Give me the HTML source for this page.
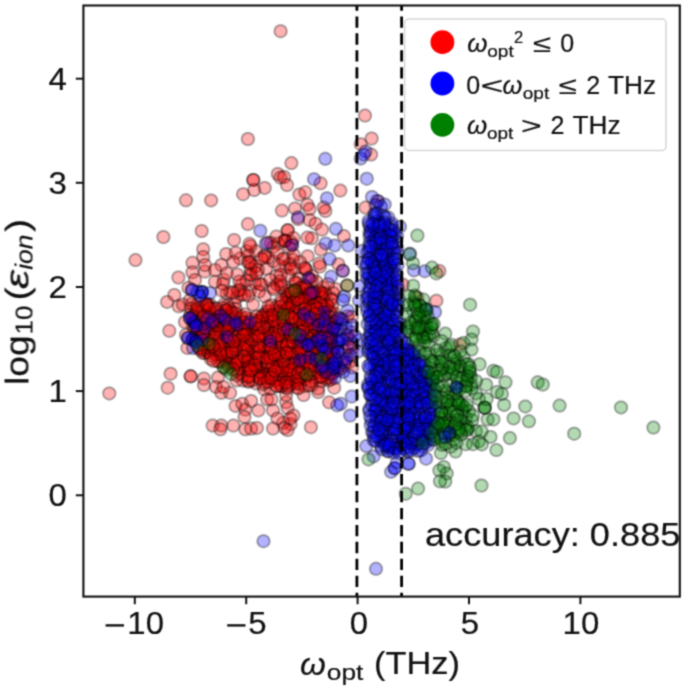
<!DOCTYPE html>
<html><head><meta charset="utf-8"><style>
html,body{margin:0;padding:0;background:#fff;width:685px;height:688px;overflow:hidden}
svg{position:absolute;left:0;top:0;}
text{stroke:#111;stroke-width:0.2px}
</style></head><body><svg width="685" height="688" viewBox="0 0 685 688"><defs><filter id="bl" x="0" y="0" width="685" height="688" filterUnits="userSpaceOnUse" color-interpolation-filters="sRGB"><feConvolveMatrix order="3" kernelMatrix="0.0400 0.1200 0.0400 0.1200 0.3600 0.1200 0.0400 0.1200 0.0400" edgeMode="duplicate" preserveAlpha="true"/></filter></defs><rect width="685" height="688" fill="#fff"/><g filter="url(#bl)"><rect width="685" height="688" fill="#fff"/><g fill="#ff0000" fill-opacity="0.3" stroke="#000" stroke-opacity="0.3" stroke-width="2.0"><circle cx="280.6" cy="31.2" r="6.25"/><circle cx="109.3" cy="393.4" r="6.25"/><circle cx="186.0" cy="200.3" r="6.25"/><circle cx="211.1" cy="200.4" r="6.25"/><circle cx="163.4" cy="237.0" r="6.25"/><circle cx="135.5" cy="260.1" r="6.25"/><circle cx="178.4" cy="277.5" r="6.25"/><circle cx="201.7" cy="231.0" r="6.25"/><circle cx="203.2" cy="249.2" r="6.25"/><circle cx="203.2" cy="256.9" r="6.25"/><circle cx="226.2" cy="254.0" r="6.25"/><circle cx="192.5" cy="262.8" r="6.25"/><circle cx="221.4" cy="265.0" r="6.25"/><circle cx="234.1" cy="240.0" r="6.25"/><circle cx="174.3" cy="294.9" r="6.25"/><circle cx="167.1" cy="301.9" r="6.25"/><circle cx="178.7" cy="306.3" r="6.25"/><circle cx="169.3" cy="330.8" r="6.25"/><circle cx="188.5" cy="287.7" r="6.25"/><circle cx="170.6" cy="373.7" r="6.25"/><circle cx="190.7" cy="376.3" r="6.25"/><circle cx="190.7" cy="376.3" r="6.25"/><circle cx="167.7" cy="387.7" r="6.25"/><circle cx="203.9" cy="378.5" r="6.25"/><circle cx="203.9" cy="385.1" r="6.25"/><circle cx="218.1" cy="377.4" r="6.25"/><circle cx="215.9" cy="386.9" r="6.25"/><circle cx="221.4" cy="392.8" r="6.25"/><circle cx="230.1" cy="392.8" r="6.25"/><circle cx="235.6" cy="405.9" r="6.25"/><circle cx="212.6" cy="425.6" r="6.25"/><circle cx="221.4" cy="425.6" r="6.25"/><circle cx="233.4" cy="425.6" r="6.25"/><circle cx="187.4" cy="347.9" r="6.25"/><circle cx="247.9" cy="139.0" r="6.25"/><circle cx="253.3" cy="179.9" r="6.25"/><circle cx="253.3" cy="179.9" r="6.25"/><circle cx="264.7" cy="187.9" r="6.25"/><circle cx="254.2" cy="190.1" r="6.25"/><circle cx="243.1" cy="194.2" r="6.25"/><circle cx="277.8" cy="174.0" r="6.25"/><circle cx="280.5" cy="177.5" r="6.25"/><circle cx="291.4" cy="163.1" r="6.25"/><circle cx="284.1" cy="177.0" r="6.25"/><circle cx="287.0" cy="185.0" r="6.25"/><circle cx="320.6" cy="183.3" r="6.25"/><circle cx="340.3" cy="190.6" r="6.25"/><circle cx="299.4" cy="194.5" r="6.25"/><circle cx="305.3" cy="192.3" r="6.25"/><circle cx="281.9" cy="210.6" r="6.25"/><circle cx="295.0" cy="208.4" r="6.25"/><circle cx="307.4" cy="204.7" r="6.25"/><circle cx="309.6" cy="209.1" r="6.25"/><circle cx="325.4" cy="211.0" r="6.25"/><circle cx="298.0" cy="219.0" r="6.25"/><circle cx="309.6" cy="220.1" r="6.25"/><circle cx="315.5" cy="223.7" r="6.25"/><circle cx="322.0" cy="229.6" r="6.25"/><circle cx="343.9" cy="236.1" r="6.25"/><circle cx="311.8" cy="238.3" r="6.25"/><circle cx="307.4" cy="237.6" r="6.25"/><circle cx="287.7" cy="230.3" r="6.25"/><circle cx="287.7" cy="230.3" r="6.25"/><circle cx="284.8" cy="240.5" r="6.25"/><circle cx="284.8" cy="240.5" r="6.25"/><circle cx="292.1" cy="244.9" r="6.25"/><circle cx="278.2" cy="243.4" r="6.25"/><circle cx="365.0" cy="115.6" r="6.25"/><circle cx="371.6" cy="138.5" r="6.25"/><circle cx="360.7" cy="144.2" r="6.25"/><circle cx="371.1" cy="154.6" r="6.25"/><circle cx="323.7" cy="207.6" r="6.25"/><circle cx="365.5" cy="207.6" r="6.25"/><circle cx="247.9" cy="224.1" r="6.25"/><circle cx="192.4" cy="272.3" r="6.25"/><circle cx="204.8" cy="271.5" r="6.25"/><circle cx="223.8" cy="279.6" r="6.25"/><circle cx="226.7" cy="293.4" r="6.25"/><circle cx="215.0" cy="281.8" r="6.25"/><circle cx="248.6" cy="255.5" r="6.25"/><circle cx="251.5" cy="264.2" r="6.25"/><circle cx="250.0" cy="274.5" r="6.25"/><circle cx="241.3" cy="284.7" r="6.25"/><circle cx="264.7" cy="255.5" r="6.25"/><circle cx="266.1" cy="268.6" r="6.25"/><circle cx="273.4" cy="261.3" r="6.25"/><circle cx="276.4" cy="275.9" r="6.25"/><circle cx="261.8" cy="284.7" r="6.25"/><circle cx="273.4" cy="287.6" r="6.25"/><circle cx="250.0" cy="290.5" r="6.25"/><circle cx="241.3" cy="294.9" r="6.25"/><circle cx="264.7" cy="296.4" r="6.25"/><circle cx="239.9" cy="258.4" r="6.25"/><circle cx="255.9" cy="251.1" r="6.25"/><circle cx="273.4" cy="246.7" r="6.25"/><circle cx="276.4" cy="236.5" r="6.25"/><circle cx="248.0" cy="262.0" r="6.25"/><circle cx="258.0" cy="270.0" r="6.25"/><circle cx="270.0" cy="280.0" r="6.25"/><circle cx="255.0" cy="283.0" r="6.25"/><circle cx="320.9" cy="249.6" r="6.25"/><circle cx="307.7" cy="256.2" r="6.25"/><circle cx="338.4" cy="264.2" r="6.25"/><circle cx="342.8" cy="270.8" r="6.25"/><circle cx="335.5" cy="289.1" r="6.25"/><circle cx="347.2" cy="285.4" r="6.25"/><circle cx="284.4" cy="258.4" r="6.25"/><circle cx="293.1" cy="259.9" r="6.25"/><circle cx="285.8" cy="267.2" r="6.25"/><circle cx="294.6" cy="268.6" r="6.25"/><circle cx="288.8" cy="275.9" r="6.25"/><circle cx="299.0" cy="278.8" r="6.25"/><circle cx="306.3" cy="270.1" r="6.25"/><circle cx="312.1" cy="275.9" r="6.25"/><circle cx="316.5" cy="281.8" r="6.25"/><circle cx="309.2" cy="278.8" r="6.25"/><circle cx="301.9" cy="287.6" r="6.25"/><circle cx="294.6" cy="290.5" r="6.25"/><circle cx="320.9" cy="293.4" r="6.25"/><circle cx="285.8" cy="293.4" r="6.25"/><circle cx="281.5" cy="284.7" r="6.25"/><circle cx="290.0" cy="264.0" r="6.25"/><circle cx="300.0" cy="262.0" r="6.25"/><circle cx="296.0" cy="283.0" r="6.25"/><circle cx="377.0" cy="201.0" r="6.25"/><circle cx="402.8" cy="284.6" r="6.25"/><circle cx="417.4" cy="297.7" r="6.25"/><circle cx="436.4" cy="300.7" r="6.25"/><circle cx="351.7" cy="316.7" r="6.25"/><circle cx="344.4" cy="364.9" r="6.25"/><circle cx="439.4" cy="271.1" r="6.25"/><circle cx="459.9" cy="344.5" r="6.25"/><circle cx="207.7" cy="306.1" r="6.25"/><circle cx="223.8" cy="304.6" r="6.25"/><circle cx="261.8" cy="316.3" r="6.25"/><circle cx="234.0" cy="348.4" r="6.25"/><circle cx="248.6" cy="354.2" r="6.25"/><circle cx="255.9" cy="365.9" r="6.25"/><circle cx="264.7" cy="352.8" r="6.25"/><circle cx="267.6" cy="374.7" r="6.25"/><circle cx="213.6" cy="333.8" r="6.25"/><circle cx="213.6" cy="351.3" r="6.25"/><circle cx="197.5" cy="307.5" r="6.25"/><circle cx="190.2" cy="314.8" r="6.25"/><circle cx="244.2" cy="335.3" r="6.25"/><circle cx="253.0" cy="333.8" r="6.25"/><circle cx="267.6" cy="329.4" r="6.25"/><circle cx="276.4" cy="322.1" r="6.25"/><circle cx="274.9" cy="358.6" r="6.25"/><circle cx="242.8" cy="380.5" r="6.25"/><circle cx="255.9" cy="383.4" r="6.25"/><circle cx="236.9" cy="297.3" r="6.25"/><circle cx="248.6" cy="295.8" r="6.25"/><circle cx="223.8" cy="355.7" r="6.25"/><circle cx="204.8" cy="352.8" r="6.25"/><circle cx="234.7" cy="303.9" r="6.25"/><circle cx="253.0" cy="304.6" r="6.25"/><circle cx="228.2" cy="323.6" r="6.25"/><circle cx="182.9" cy="304.6" r="6.25"/><circle cx="185.0" cy="322.0" r="6.25"/><circle cx="186.0" cy="335.0" r="6.25"/><circle cx="200.0" cy="330.0" r="6.25"/><circle cx="215.0" cy="325.0" r="6.25"/><circle cx="190.0" cy="300.0" r="6.25"/><circle cx="286.3" cy="297.3" r="6.25"/><circle cx="293.6" cy="307.5" r="6.25"/><circle cx="312.6" cy="303.1" r="6.25"/><circle cx="265.8" cy="314.8" r="6.25"/><circle cx="302.3" cy="325.0" r="6.25"/><circle cx="324.2" cy="323.6" r="6.25"/><circle cx="312.6" cy="326.5" r="6.25"/><circle cx="321.3" cy="336.7" r="6.25"/><circle cx="330.1" cy="333.8" r="6.25"/><circle cx="279.0" cy="354.2" r="6.25"/><circle cx="290.7" cy="348.4" r="6.25"/><circle cx="295.0" cy="363.0" r="6.25"/><circle cx="277.5" cy="365.9" r="6.25"/><circle cx="287.7" cy="371.8" r="6.25"/><circle cx="274.6" cy="380.5" r="6.25"/><circle cx="299.4" cy="383.4" r="6.25"/><circle cx="328.6" cy="380.5" r="6.25"/><circle cx="335.9" cy="368.8" r="6.25"/><circle cx="321.3" cy="377.6" r="6.25"/><circle cx="333.0" cy="292.9" r="6.25"/><circle cx="347.6" cy="316.3" r="6.25"/><circle cx="352.0" cy="367.4" r="6.25"/><circle cx="312.6" cy="294.4" r="6.25"/><circle cx="303.8" cy="314.1" r="6.25"/><circle cx="287.7" cy="329.4" r="6.25"/><circle cx="271.0" cy="341.1" r="6.25"/><circle cx="300.9" cy="341.1" r="6.25"/><circle cx="223.4" cy="387.0" r="6.25"/><circle cx="242.3" cy="403.8" r="6.25"/><circle cx="245.3" cy="409.6" r="6.25"/><circle cx="244.5" cy="416.9" r="6.25"/><circle cx="258.4" cy="410.4" r="6.25"/><circle cx="273.0" cy="410.4" r="6.25"/><circle cx="251.1" cy="400.9" r="6.25"/><circle cx="267.2" cy="399.4" r="6.25"/><circle cx="286.1" cy="402.3" r="6.25"/><circle cx="287.6" cy="408.2" r="6.25"/><circle cx="293.4" cy="415.5" r="6.25"/><circle cx="290.5" cy="424.2" r="6.25"/><circle cx="283.2" cy="422.8" r="6.25"/><circle cx="277.4" cy="418.4" r="6.25"/><circle cx="220.4" cy="429.3" r="6.25"/><circle cx="245.3" cy="429.3" r="6.25"/><circle cx="251.1" cy="428.6" r="6.25"/><circle cx="256.9" cy="427.9" r="6.25"/><circle cx="273.0" cy="428.6" r="6.25"/><circle cx="284.7" cy="427.9" r="6.25"/><circle cx="287.6" cy="430.1" r="6.25"/><circle cx="243.8" cy="376.1" r="6.25"/><circle cx="290.5" cy="368.8" r="6.25"/><circle cx="236.5" cy="380.4" r="6.25"/><circle cx="264.2" cy="389.2" r="6.25"/><circle cx="281.8" cy="386.3" r="6.25"/><circle cx="294.9" cy="383.4" r="6.25"/><circle cx="248.2" cy="367.3" r="6.25"/><circle cx="310.9" cy="427.2" r="6.25"/><circle cx="286.1" cy="395.0" r="6.25"/><circle cx="290.4" cy="418.4" r="6.25"/><circle cx="271.5" cy="399.4" r="6.25"/><circle cx="303.6" cy="395.0" r="6.25"/><circle cx="318.2" cy="392.1" r="6.25"/><circle cx="334.2" cy="387.7" r="6.25"/><circle cx="329.1" cy="402.3" r="6.25"/><circle cx="318.2" cy="388.5" r="6.25"/><circle cx="278.8" cy="379.0" r="6.25"/><circle cx="286.1" cy="387.7" r="6.25"/><circle cx="205.0" cy="265.0" r="6.25"/><circle cx="215.0" cy="270.0" r="6.25"/><circle cx="195.0" cy="280.0" r="6.25"/><circle cx="230.0" cy="292.0" r="6.25"/><circle cx="240.0" cy="290.0" r="6.25"/><circle cx="324.4" cy="341.4" r="6.25"/><circle cx="348.7" cy="362.4" r="6.25"/><circle cx="351.7" cy="355.3" r="6.25"/><circle cx="340.2" cy="329.9" r="6.25"/><circle cx="349.5" cy="339.0" r="6.25"/><circle cx="322.9" cy="354.6" r="6.25"/><circle cx="327.7" cy="342.3" r="6.25"/><circle cx="338.2" cy="342.8" r="6.25"/><circle cx="340.3" cy="318.6" r="6.25"/><circle cx="331.3" cy="353.1" r="6.25"/><circle cx="336.0" cy="361.7" r="6.25"/><circle cx="346.6" cy="337.8" r="6.25"/><circle cx="351.4" cy="332.3" r="6.25"/><circle cx="337.7" cy="370.9" r="6.25"/><circle cx="353.2" cy="347.4" r="6.25"/><circle cx="330.1" cy="340.6" r="6.25"/><circle cx="317.0" cy="341.2" r="6.25"/><circle cx="333.9" cy="348.1" r="6.25"/><circle cx="324.1" cy="359.4" r="6.25"/><circle cx="331.6" cy="338.5" r="6.25"/><circle cx="327.6" cy="322.0" r="6.25"/><circle cx="326.1" cy="371.7" r="6.25"/><circle cx="328.1" cy="357.0" r="6.25"/><circle cx="344.6" cy="351.1" r="6.25"/><circle cx="342.9" cy="359.0" r="6.25"/><circle cx="326.9" cy="367.2" r="6.25"/><circle cx="329.0" cy="327.2" r="6.25"/><circle cx="348.9" cy="346.4" r="6.25"/><circle cx="322.1" cy="333.2" r="6.25"/><circle cx="340.4" cy="368.8" r="6.25"/><circle cx="334.8" cy="326.5" r="6.25"/><circle cx="291.4" cy="268.9" r="6.25"/><circle cx="277.1" cy="284.5" r="6.25"/><circle cx="223.1" cy="283.8" r="6.25"/><circle cx="226.9" cy="273.2" r="6.25"/><circle cx="268.0" cy="257.5" r="6.25"/><circle cx="291.4" cy="242.2" r="6.25"/><circle cx="281.4" cy="287.4" r="6.25"/><circle cx="238.1" cy="290.5" r="6.25"/><circle cx="270.9" cy="243.1" r="6.25"/><circle cx="279.2" cy="265.5" r="6.25"/><circle cx="246.6" cy="280.7" r="6.25"/><circle cx="285.1" cy="241.1" r="6.25"/><circle cx="246.8" cy="251.2" r="6.25"/><circle cx="280.7" cy="274.6" r="6.25"/><circle cx="251.2" cy="275.1" r="6.25"/><circle cx="293.6" cy="238.1" r="6.25"/><circle cx="260.0" cy="284.0" r="6.25"/><circle cx="250.7" cy="269.0" r="6.25"/><circle cx="320.0" cy="266.6" r="6.25"/><circle cx="282.6" cy="259.2" r="6.25"/><circle cx="280.3" cy="281.2" r="6.25"/><circle cx="305.5" cy="268.7" r="6.25"/><circle cx="255.6" cy="266.0" r="6.25"/><circle cx="322.9" cy="287.5" r="6.25"/><circle cx="273.7" cy="289.3" r="6.25"/><circle cx="311.2" cy="280.3" r="6.25"/><circle cx="289.8" cy="247.4" r="6.25"/><circle cx="221.8" cy="290.7" r="6.25"/><circle cx="249.3" cy="262.2" r="6.25"/><circle cx="232.5" cy="292.8" r="6.25"/><circle cx="250.5" cy="246.1" r="6.25"/><circle cx="264.6" cy="256.6" r="6.25"/><circle cx="261.7" cy="258.8" r="6.25"/><circle cx="267.7" cy="242.5" r="6.25"/><circle cx="249.5" cy="243.8" r="6.25"/><circle cx="237.2" cy="274.4" r="6.25"/><circle cx="239.4" cy="281.4" r="6.25"/><circle cx="303.5" cy="284.9" r="6.25"/><circle cx="235.8" cy="252.8" r="6.25"/><circle cx="259.0" cy="291.5" r="6.25"/><circle cx="319.4" cy="263.4" r="6.25"/><circle cx="295.1" cy="282.2" r="6.25"/><circle cx="233.3" cy="261.9" r="6.25"/><circle cx="256.6" cy="273.3" r="6.25"/><circle cx="293.8" cy="255.0" r="6.25"/><circle cx="244.5" cy="294.6" r="6.25"/><circle cx="304.5" cy="268.1" r="6.25"/><circle cx="328.0" cy="283.9" r="6.25"/><circle cx="277.2" cy="252.5" r="6.25"/><circle cx="322.6" cy="321.7" r="6.25"/><circle cx="303.3" cy="376.4" r="6.25"/><circle cx="288.4" cy="297.4" r="6.25"/><circle cx="331.1" cy="312.9" r="6.25"/><circle cx="294.0" cy="329.5" r="6.25"/><circle cx="310.2" cy="353.1" r="6.25"/><circle cx="196.9" cy="339.8" r="6.25"/><circle cx="316.9" cy="361.1" r="6.25"/><circle cx="292.3" cy="335.4" r="6.25"/><circle cx="310.4" cy="353.6" r="6.25"/><circle cx="291.7" cy="323.7" r="6.25"/><circle cx="224.1" cy="366.8" r="6.25"/><circle cx="212.0" cy="323.2" r="6.25"/><circle cx="192.1" cy="339.7" r="6.25"/><circle cx="238.9" cy="372.9" r="6.25"/><circle cx="269.5" cy="367.1" r="6.25"/><circle cx="275.8" cy="310.5" r="6.25"/><circle cx="237.5" cy="343.7" r="6.25"/><circle cx="263.2" cy="339.9" r="6.25"/><circle cx="332.0" cy="349.4" r="6.25"/><circle cx="326.5" cy="378.4" r="6.25"/><circle cx="237.7" cy="318.0" r="6.25"/><circle cx="263.2" cy="321.2" r="6.25"/><circle cx="234.5" cy="353.1" r="6.25"/><circle cx="211.2" cy="345.3" r="6.25"/><circle cx="305.5" cy="315.9" r="6.25"/><circle cx="331.0" cy="338.3" r="6.25"/><circle cx="307.3" cy="321.1" r="6.25"/><circle cx="306.4" cy="344.5" r="6.25"/><circle cx="288.6" cy="307.6" r="6.25"/><circle cx="301.9" cy="328.1" r="6.25"/><circle cx="231.5" cy="345.8" r="6.25"/><circle cx="225.2" cy="332.9" r="6.25"/><circle cx="288.5" cy="378.6" r="6.25"/><circle cx="299.5" cy="292.2" r="6.25"/><circle cx="210.0" cy="304.5" r="6.25"/><circle cx="258.8" cy="342.9" r="6.25"/><circle cx="315.6" cy="337.0" r="6.25"/><circle cx="315.7" cy="349.0" r="6.25"/><circle cx="302.9" cy="322.7" r="6.25"/><circle cx="299.2" cy="328.6" r="6.25"/><circle cx="331.1" cy="298.4" r="6.25"/><circle cx="193.2" cy="320.2" r="6.25"/><circle cx="227.3" cy="360.7" r="6.25"/><circle cx="311.8" cy="385.0" r="6.25"/><circle cx="290.3" cy="357.4" r="6.25"/><circle cx="316.9" cy="292.7" r="6.25"/><circle cx="311.5" cy="316.6" r="6.25"/><circle cx="293.3" cy="365.5" r="6.25"/><circle cx="314.7" cy="329.2" r="6.25"/><circle cx="265.0" cy="351.9" r="6.25"/><circle cx="308.9" cy="368.4" r="6.25"/><circle cx="293.3" cy="379.5" r="6.25"/><circle cx="288.0" cy="388.3" r="6.25"/><circle cx="240.3" cy="322.8" r="6.25"/><circle cx="220.5" cy="335.8" r="6.25"/><circle cx="231.2" cy="363.6" r="6.25"/><circle cx="283.7" cy="312.4" r="6.25"/><circle cx="240.4" cy="366.0" r="6.25"/><circle cx="261.5" cy="372.7" r="6.25"/><circle cx="217.1" cy="312.0" r="6.25"/><circle cx="301.8" cy="338.5" r="6.25"/><circle cx="283.1" cy="340.7" r="6.25"/><circle cx="210.8" cy="324.5" r="6.25"/><circle cx="247.6" cy="361.4" r="6.25"/><circle cx="194.4" cy="322.8" r="6.25"/><circle cx="246.1" cy="362.2" r="6.25"/><circle cx="272.7" cy="333.3" r="6.25"/><circle cx="233.0" cy="331.5" r="6.25"/><circle cx="251.8" cy="335.4" r="6.25"/><circle cx="283.3" cy="381.3" r="6.25"/><circle cx="207.9" cy="341.5" r="6.25"/><circle cx="220.1" cy="330.0" r="6.25"/><circle cx="289.5" cy="298.9" r="6.25"/><circle cx="210.6" cy="313.1" r="6.25"/><circle cx="268.5" cy="327.3" r="6.25"/><circle cx="315.8" cy="328.9" r="6.25"/><circle cx="264.1" cy="347.7" r="6.25"/><circle cx="322.4" cy="312.4" r="6.25"/><circle cx="273.9" cy="332.0" r="6.25"/><circle cx="307.0" cy="337.3" r="6.25"/><circle cx="301.5" cy="370.4" r="6.25"/><circle cx="267.9" cy="373.5" r="6.25"/><circle cx="334.1" cy="312.9" r="6.25"/><circle cx="310.6" cy="374.7" r="6.25"/><circle cx="284.1" cy="374.1" r="6.25"/><circle cx="227.4" cy="305.8" r="6.25"/><circle cx="250.2" cy="360.2" r="6.25"/><circle cx="195.8" cy="336.2" r="6.25"/><circle cx="331.4" cy="374.1" r="6.25"/><circle cx="329.5" cy="312.1" r="6.25"/><circle cx="291.7" cy="325.8" r="6.25"/><circle cx="322.7" cy="328.5" r="6.25"/><circle cx="226.3" cy="329.4" r="6.25"/><circle cx="294.6" cy="314.2" r="6.25"/><circle cx="275.8" cy="329.1" r="6.25"/><circle cx="314.7" cy="365.2" r="6.25"/><circle cx="319.6" cy="337.0" r="6.25"/><circle cx="268.7" cy="350.1" r="6.25"/><circle cx="220.4" cy="321.1" r="6.25"/><circle cx="223.9" cy="359.6" r="6.25"/><circle cx="212.9" cy="339.2" r="6.25"/><circle cx="223.4" cy="343.0" r="6.25"/><circle cx="326.9" cy="345.3" r="6.25"/><circle cx="297.4" cy="295.1" r="6.25"/><circle cx="324.7" cy="337.1" r="6.25"/><circle cx="239.2" cy="357.4" r="6.25"/><circle cx="310.5" cy="300.3" r="6.25"/><circle cx="319.4" cy="376.5" r="6.25"/><circle cx="223.9" cy="322.3" r="6.25"/><circle cx="291.0" cy="346.3" r="6.25"/><circle cx="323.5" cy="341.3" r="6.25"/><circle cx="315.5" cy="377.7" r="6.25"/><circle cx="317.4" cy="372.4" r="6.25"/><circle cx="232.9" cy="357.1" r="6.25"/><circle cx="281.5" cy="376.1" r="6.25"/><circle cx="281.0" cy="386.0" r="6.25"/><circle cx="314.8" cy="301.2" r="6.25"/><circle cx="197.9" cy="322.6" r="6.25"/><circle cx="212.3" cy="328.8" r="6.25"/><circle cx="208.8" cy="353.0" r="6.25"/><circle cx="297.5" cy="387.5" r="6.25"/><circle cx="285.4" cy="361.7" r="6.25"/><circle cx="287.8" cy="371.2" r="6.25"/><circle cx="288.0" cy="295.1" r="6.25"/><circle cx="330.4" cy="366.5" r="6.25"/><circle cx="300.5" cy="358.6" r="6.25"/><circle cx="278.4" cy="362.4" r="6.25"/><circle cx="259.1" cy="367.6" r="6.25"/><circle cx="264.1" cy="334.9" r="6.25"/><circle cx="292.6" cy="331.1" r="6.25"/><circle cx="195.4" cy="313.3" r="6.25"/><circle cx="308.3" cy="364.0" r="6.25"/><circle cx="276.6" cy="307.0" r="6.25"/><circle cx="255.5" cy="368.7" r="6.25"/><circle cx="319.9" cy="351.4" r="6.25"/><circle cx="251.7" cy="330.5" r="6.25"/><circle cx="235.8" cy="309.1" r="6.25"/><circle cx="222.9" cy="307.7" r="6.25"/><circle cx="325.3" cy="293.4" r="6.25"/><circle cx="239.9" cy="318.6" r="6.25"/><circle cx="291.0" cy="303.2" r="6.25"/><circle cx="276.1" cy="342.8" r="6.25"/><circle cx="256.1" cy="353.1" r="6.25"/><circle cx="309.1" cy="291.9" r="6.25"/><circle cx="205.6" cy="329.9" r="6.25"/><circle cx="251.8" cy="347.0" r="6.25"/><circle cx="230.4" cy="325.3" r="6.25"/><circle cx="307.6" cy="324.5" r="6.25"/><circle cx="290.0" cy="290.3" r="6.25"/><circle cx="267.1" cy="317.8" r="6.25"/><circle cx="327.3" cy="349.4" r="6.25"/><circle cx="325.6" cy="308.9" r="6.25"/><circle cx="242.2" cy="352.0" r="6.25"/><circle cx="191.8" cy="303.9" r="6.25"/><circle cx="294.1" cy="307.6" r="6.25"/><circle cx="262.7" cy="384.5" r="6.25"/><circle cx="214.6" cy="325.1" r="6.25"/><circle cx="293.3" cy="361.8" r="6.25"/><circle cx="309.6" cy="297.7" r="6.25"/><circle cx="328.8" cy="364.4" r="6.25"/><circle cx="266.9" cy="323.2" r="6.25"/><circle cx="225.3" cy="311.3" r="6.25"/><circle cx="254.8" cy="328.7" r="6.25"/><circle cx="333.9" cy="366.7" r="6.25"/><circle cx="273.5" cy="351.6" r="6.25"/><circle cx="241.1" cy="361.0" r="6.25"/><circle cx="269.3" cy="358.3" r="6.25"/><circle cx="217.7" cy="330.0" r="6.25"/><circle cx="219.4" cy="320.2" r="6.25"/><circle cx="304.5" cy="356.6" r="6.25"/><circle cx="240.0" cy="344.9" r="6.25"/><circle cx="235.3" cy="336.8" r="6.25"/><circle cx="243.7" cy="324.6" r="6.25"/><circle cx="245.6" cy="369.6" r="6.25"/><circle cx="250.6" cy="343.4" r="6.25"/><circle cx="248.0" cy="330.2" r="6.25"/><circle cx="270.5" cy="388.7" r="6.25"/><circle cx="301.3" cy="344.0" r="6.25"/><circle cx="311.2" cy="330.2" r="6.25"/><circle cx="264.5" cy="344.8" r="6.25"/><circle cx="266.3" cy="311.7" r="6.25"/><circle cx="310.4" cy="305.9" r="6.25"/><circle cx="280.7" cy="344.0" r="6.25"/><circle cx="287.6" cy="329.2" r="6.25"/><circle cx="222.1" cy="361.6" r="6.25"/><circle cx="203.7" cy="349.3" r="6.25"/><circle cx="236.8" cy="370.4" r="6.25"/><circle cx="293.9" cy="352.6" r="6.25"/><circle cx="282.8" cy="346.8" r="6.25"/><circle cx="319.1" cy="337.3" r="6.25"/><circle cx="320.9" cy="296.7" r="6.25"/><circle cx="248.9" cy="347.8" r="6.25"/><circle cx="261.3" cy="332.9" r="6.25"/><circle cx="281.2" cy="357.5" r="6.25"/><circle cx="203.0" cy="353.1" r="6.25"/><circle cx="288.4" cy="352.8" r="6.25"/><circle cx="328.5" cy="377.2" r="6.25"/><circle cx="313.6" cy="324.4" r="6.25"/><circle cx="243.6" cy="337.5" r="6.25"/><circle cx="223.7" cy="349.0" r="6.25"/><circle cx="299.3" cy="345.4" r="6.25"/><circle cx="251.5" cy="318.9" r="6.25"/><circle cx="327.4" cy="353.2" r="6.25"/><circle cx="312.4" cy="335.8" r="6.25"/><circle cx="287.8" cy="339.6" r="6.25"/><circle cx="224.2" cy="314.7" r="6.25"/><circle cx="332.6" cy="333.8" r="6.25"/><circle cx="332.8" cy="372.9" r="6.25"/><circle cx="311.6" cy="339.0" r="6.25"/><circle cx="282.5" cy="368.2" r="6.25"/><circle cx="245.7" cy="329.0" r="6.25"/><circle cx="223.2" cy="340.9" r="6.25"/><circle cx="305.0" cy="379.1" r="6.25"/><circle cx="321.7" cy="361.3" r="6.25"/><circle cx="246.8" cy="341.2" r="6.25"/><circle cx="248.3" cy="357.6" r="6.25"/><circle cx="249.6" cy="324.8" r="6.25"/><circle cx="302.1" cy="315.8" r="6.25"/><circle cx="280.2" cy="311.1" r="6.25"/><circle cx="196.2" cy="341.2" r="6.25"/><circle cx="229.3" cy="356.1" r="6.25"/><circle cx="279.2" cy="329.1" r="6.25"/><circle cx="219.8" cy="361.8" r="6.25"/><circle cx="327.1" cy="304.6" r="6.25"/><circle cx="235.9" cy="345.8" r="6.25"/><circle cx="275.0" cy="359.4" r="6.25"/><circle cx="217.3" cy="325.4" r="6.25"/><circle cx="247.4" cy="324.9" r="6.25"/><circle cx="318.0" cy="330.9" r="6.25"/><circle cx="324.2" cy="306.2" r="6.25"/><circle cx="231.3" cy="312.1" r="6.25"/><circle cx="194.2" cy="329.3" r="6.25"/><circle cx="221.1" cy="352.9" r="6.25"/><circle cx="313.6" cy="344.4" r="6.25"/><circle cx="215.3" cy="350.9" r="6.25"/><circle cx="309.0" cy="323.0" r="6.25"/><circle cx="192.9" cy="325.4" r="6.25"/><circle cx="304.6" cy="300.6" r="6.25"/><circle cx="266.2" cy="373.7" r="6.25"/><circle cx="243.4" cy="343.7" r="6.25"/><circle cx="248.5" cy="381.8" r="6.25"/><circle cx="296.3" cy="338.7" r="6.25"/><circle cx="264.5" cy="378.1" r="6.25"/><circle cx="246.8" cy="349.7" r="6.25"/><circle cx="220.8" cy="316.0" r="6.25"/><circle cx="204.2" cy="343.8" r="6.25"/><circle cx="318.2" cy="338.0" r="6.25"/><circle cx="191.1" cy="308.4" r="6.25"/><circle cx="244.0" cy="330.2" r="6.25"/><circle cx="332.2" cy="305.6" r="6.25"/><circle cx="325.1" cy="317.3" r="6.25"/><circle cx="274.9" cy="369.6" r="6.25"/><circle cx="228.2" cy="338.5" r="6.25"/><circle cx="329.2" cy="316.8" r="6.25"/><circle cx="297.8" cy="347.7" r="6.25"/><circle cx="272.1" cy="316.6" r="6.25"/><circle cx="252.2" cy="380.2" r="6.25"/><circle cx="207.5" cy="351.6" r="6.25"/><circle cx="256.1" cy="321.0" r="6.25"/><circle cx="319.7" cy="308.7" r="6.25"/><circle cx="282.6" cy="335.3" r="6.25"/><circle cx="305.6" cy="306.9" r="6.25"/><circle cx="301.3" cy="304.9" r="6.25"/><circle cx="258.9" cy="338.0" r="6.25"/><circle cx="282.4" cy="342.2" r="6.25"/><circle cx="293.2" cy="301.9" r="6.25"/><circle cx="305.2" cy="345.7" r="6.25"/><circle cx="222.7" cy="328.8" r="6.25"/><circle cx="268.7" cy="333.2" r="6.25"/><circle cx="324.6" cy="356.1" r="6.25"/><circle cx="291.3" cy="383.2" r="6.25"/><circle cx="283.3" cy="355.8" r="6.25"/><circle cx="321.8" cy="305.6" r="6.25"/><circle cx="275.9" cy="328.6" r="6.25"/><circle cx="278.6" cy="346.9" r="6.25"/><circle cx="319.1" cy="356.4" r="6.25"/><circle cx="322.8" cy="297.1" r="6.25"/><circle cx="285.9" cy="352.4" r="6.25"/><circle cx="208.5" cy="314.7" r="6.25"/><circle cx="310.9" cy="316.3" r="6.25"/><circle cx="319.3" cy="320.5" r="6.25"/><circle cx="304.1" cy="358.6" r="6.25"/><circle cx="261.2" cy="363.5" r="6.25"/><circle cx="322.6" cy="293.5" r="6.25"/><circle cx="330.9" cy="379.3" r="6.25"/><circle cx="267.5" cy="366.1" r="6.25"/><circle cx="277.0" cy="338.8" r="6.25"/><circle cx="319.2" cy="362.4" r="6.25"/><circle cx="192.2" cy="318.8" r="6.25"/><circle cx="297.1" cy="377.1" r="6.25"/><circle cx="207.5" cy="304.1" r="6.25"/><circle cx="296.9" cy="383.7" r="6.25"/><circle cx="296.1" cy="354.1" r="6.25"/><circle cx="297.8" cy="312.7" r="6.25"/><circle cx="217.8" cy="315.8" r="6.25"/><circle cx="270.8" cy="321.5" r="6.25"/><circle cx="288.4" cy="385.7" r="6.25"/><circle cx="286.9" cy="346.4" r="6.25"/><circle cx="284.6" cy="324.8" r="6.25"/><circle cx="335.9" cy="320.5" r="6.25"/><circle cx="281.5" cy="302.3" r="6.25"/><circle cx="203.0" cy="306.1" r="6.25"/><circle cx="256.8" cy="374.7" r="6.25"/><circle cx="271.6" cy="363.5" r="6.25"/><circle cx="259.7" cy="357.5" r="6.25"/><circle cx="253.7" cy="356.8" r="6.25"/><circle cx="219.2" cy="340.9" r="6.25"/><circle cx="262.5" cy="357.4" r="6.25"/><circle cx="280.2" cy="319.6" r="6.25"/><circle cx="268.8" cy="310.6" r="6.25"/><circle cx="299.4" cy="288.3" r="6.25"/><circle cx="323.7" cy="361.8" r="6.25"/><circle cx="304.2" cy="295.0" r="6.25"/><circle cx="196.9" cy="305.1" r="6.25"/><circle cx="227.5" cy="363.8" r="6.25"/><circle cx="241.0" cy="316.2" r="6.25"/><circle cx="322.6" cy="318.6" r="6.25"/><circle cx="252.9" cy="351.0" r="6.25"/><circle cx="331.8" cy="328.8" r="6.25"/><circle cx="237.8" cy="334.9" r="6.25"/><circle cx="275.7" cy="380.0" r="6.25"/><circle cx="231.9" cy="312.7" r="6.25"/><circle cx="236.9" cy="375.4" r="6.25"/><circle cx="233.7" cy="335.4" r="6.25"/><circle cx="299.6" cy="378.8" r="6.25"/><circle cx="276.3" cy="357.2" r="6.25"/><circle cx="229.1" cy="366.9" r="6.25"/><circle cx="305.9" cy="297.2" r="6.25"/><circle cx="285.2" cy="309.8" r="6.25"/><circle cx="285.8" cy="303.3" r="6.25"/><circle cx="291.0" cy="316.6" r="6.25"/><circle cx="256.1" cy="365.2" r="6.25"/><circle cx="198.6" cy="311.3" r="6.25"/><circle cx="282.8" cy="316.9" r="6.25"/><circle cx="310.5" cy="324.5" r="6.25"/><circle cx="214.3" cy="308.6" r="6.25"/><circle cx="306.7" cy="375.2" r="6.25"/><circle cx="332.1" cy="363.9" r="6.25"/><circle cx="317.0" cy="353.1" r="6.25"/><circle cx="296.2" cy="321.1" r="6.25"/><circle cx="239.2" cy="368.2" r="6.25"/><circle cx="202.6" cy="324.8" r="6.25"/><circle cx="334.4" cy="322.4" r="6.25"/><circle cx="249.9" cy="376.4" r="6.25"/><circle cx="202.7" cy="336.7" r="6.25"/><circle cx="224.1" cy="317.7" r="6.25"/><circle cx="305.0" cy="386.1" r="6.25"/><circle cx="269.3" cy="316.5" r="6.25"/><circle cx="203.6" cy="310.6" r="6.25"/><circle cx="200.2" cy="348.1" r="6.25"/><circle cx="290.1" cy="306.1" r="6.25"/><circle cx="198.9" cy="348.2" r="6.25"/><circle cx="256.2" cy="358.7" r="6.25"/><circle cx="248.1" cy="366.7" r="6.25"/><circle cx="257.3" cy="345.4" r="6.25"/><circle cx="237.4" cy="360.2" r="6.25"/><circle cx="310.7" cy="347.0" r="6.25"/><circle cx="230.8" cy="316.4" r="6.25"/><circle cx="235.5" cy="364.4" r="6.25"/><circle cx="215.2" cy="332.8" r="6.25"/><circle cx="227.1" cy="350.3" r="6.25"/><circle cx="331.5" cy="299.9" r="6.25"/><circle cx="269.1" cy="348.3" r="6.25"/><circle cx="314.2" cy="297.8" r="6.25"/><circle cx="271.7" cy="305.2" r="6.25"/><circle cx="295.2" cy="368.7" r="6.25"/><circle cx="274.4" cy="337.7" r="6.25"/><circle cx="280.6" cy="365.8" r="6.25"/><circle cx="217.5" cy="361.4" r="6.25"/><circle cx="298.0" cy="366.5" r="6.25"/><circle cx="249.5" cy="368.0" r="6.25"/><circle cx="226.1" cy="353.2" r="6.25"/><circle cx="208.1" cy="347.7" r="6.25"/><circle cx="327.4" cy="306.0" r="6.25"/><circle cx="319.5" cy="291.0" r="6.25"/><circle cx="239.2" cy="340.5" r="6.25"/><circle cx="248.6" cy="380.8" r="6.25"/><circle cx="307.2" cy="288.5" r="6.25"/><circle cx="334.2" cy="346.4" r="6.25"/><circle cx="268.5" cy="377.7" r="6.25"/><circle cx="258.1" cy="371.5" r="6.25"/><circle cx="318.3" cy="320.8" r="6.25"/><circle cx="296.7" cy="380.9" r="6.25"/><circle cx="291.4" cy="337.1" r="6.25"/><circle cx="196.8" cy="331.8" r="6.25"/><circle cx="327.7" cy="357.9" r="6.25"/><circle cx="317.5" cy="341.4" r="6.25"/><circle cx="287.2" cy="344.7" r="6.25"/><circle cx="214.3" cy="322.6" r="6.25"/><circle cx="301.5" cy="335.8" r="6.25"/><circle cx="220.1" cy="342.9" r="6.25"/><circle cx="325.2" cy="371.7" r="6.25"/><circle cx="284.1" cy="331.8" r="6.25"/><circle cx="313.7" cy="292.2" r="6.25"/><circle cx="289.1" cy="374.0" r="6.25"/><circle cx="208.4" cy="333.0" r="6.25"/><circle cx="311.5" cy="309.4" r="6.25"/><circle cx="236.1" cy="328.2" r="6.25"/><circle cx="302.4" cy="362.7" r="6.25"/><circle cx="318.5" cy="312.6" r="6.25"/><circle cx="281.3" cy="300.0" r="6.25"/><circle cx="301.1" cy="353.8" r="6.25"/><circle cx="307.3" cy="350.5" r="6.25"/><circle cx="302.0" cy="297.9" r="6.25"/><circle cx="266.3" cy="337.9" r="6.25"/><circle cx="270.2" cy="336.0" r="6.25"/><circle cx="260.0" cy="377.6" r="6.25"/><circle cx="305.1" cy="372.9" r="6.25"/><circle cx="269.6" cy="345.1" r="6.25"/><circle cx="259.5" cy="327.9" r="6.25"/><circle cx="302.8" cy="331.5" r="6.25"/><circle cx="206.7" cy="305.6" r="6.25"/><circle cx="207.1" cy="340.0" r="6.25"/><circle cx="246.7" cy="334.5" r="6.25"/><circle cx="257.2" cy="328.8" r="6.25"/><circle cx="325.5" cy="346.6" r="6.25"/><circle cx="237.8" cy="362.1" r="6.25"/><circle cx="264.2" cy="376.3" r="6.25"/><circle cx="295.8" cy="290.7" r="6.25"/><circle cx="327.9" cy="369.1" r="6.25"/><circle cx="246.1" cy="317.8" r="6.25"/><circle cx="259.8" cy="336.0" r="6.25"/><circle cx="329.1" cy="373.7" r="6.25"/><circle cx="228.9" cy="318.4" r="6.25"/><circle cx="263.1" cy="314.9" r="6.25"/><circle cx="308.9" cy="385.5" r="6.25"/><circle cx="317.7" cy="347.9" r="6.25"/><circle cx="278.6" cy="367.8" r="6.25"/><circle cx="201.6" cy="344.8" r="6.25"/><circle cx="220.4" cy="350.1" r="6.25"/><circle cx="268.3" cy="306.6" r="6.25"/><circle cx="278.8" cy="382.6" r="6.25"/><circle cx="304.6" cy="361.2" r="6.25"/><circle cx="278.7" cy="314.0" r="6.25"/><circle cx="215.9" cy="354.6" r="6.25"/><circle cx="245.0" cy="344.6" r="6.25"/><circle cx="288.0" cy="308.3" r="6.25"/><circle cx="264.5" cy="382.6" r="6.25"/><circle cx="214.9" cy="348.9" r="6.25"/><circle cx="314.1" cy="373.1" r="6.25"/><circle cx="331.2" cy="337.8" r="6.25"/><circle cx="309.8" cy="293.6" r="6.25"/><circle cx="244.5" cy="348.4" r="6.25"/><circle cx="333.6" cy="354.2" r="6.25"/><circle cx="262.5" cy="317.7" r="6.25"/><circle cx="278.2" cy="322.7" r="6.25"/><circle cx="291.5" cy="353.3" r="6.25"/><circle cx="213.9" cy="319.6" r="6.25"/><circle cx="314.0" cy="347.3" r="6.25"/><circle cx="235.8" cy="349.4" r="6.25"/><circle cx="276.7" cy="386.4" r="6.25"/><circle cx="309.3" cy="310.1" r="6.25"/><circle cx="332.2" cy="327.5" r="6.25"/><circle cx="259.0" cy="321.1" r="6.25"/><circle cx="200.4" cy="337.1" r="6.25"/><circle cx="323.8" cy="329.4" r="6.25"/><circle cx="259.9" cy="378.8" r="6.25"/><circle cx="310.6" cy="361.8" r="6.25"/><circle cx="233.9" cy="325.0" r="6.25"/><circle cx="273.9" cy="320.7" r="6.25"/><circle cx="210.8" cy="355.7" r="6.25"/><circle cx="256.3" cy="316.6" r="6.25"/><circle cx="298.8" cy="303.6" r="6.25"/><circle cx="216.4" cy="308.6" r="6.25"/><circle cx="328.5" cy="326.3" r="6.25"/><circle cx="290.8" cy="329.2" r="6.25"/><circle cx="295.4" cy="311.9" r="6.25"/><circle cx="324.1" cy="337.3" r="6.25"/><circle cx="278.5" cy="353.3" r="6.25"/><circle cx="247.6" cy="361.3" r="6.25"/><circle cx="229.1" cy="308.4" r="6.25"/><circle cx="229.3" cy="327.0" r="6.25"/><circle cx="200.4" cy="350.2" r="6.25"/><circle cx="321.9" cy="365.8" r="6.25"/><circle cx="276.5" cy="385.6" r="6.25"/><circle cx="305.6" cy="300.5" r="6.25"/><circle cx="202.6" cy="334.6" r="6.25"/><circle cx="220.6" cy="354.5" r="6.25"/><circle cx="216.1" cy="337.4" r="6.25"/><circle cx="251.8" cy="369.5" r="6.25"/><circle cx="310.7" cy="370.6" r="6.25"/><circle cx="244.8" cy="314.3" r="6.25"/><circle cx="301.2" cy="347.3" r="6.25"/><circle cx="320.9" cy="381.1" r="6.25"/><circle cx="196.8" cy="309.6" r="6.25"/><circle cx="205.8" cy="303.9" r="6.25"/><circle cx="232.9" cy="369.2" r="6.25"/><circle cx="304.2" cy="353.2" r="6.25"/><circle cx="272.6" cy="374.8" r="6.25"/><circle cx="228.6" cy="341.2" r="6.25"/><circle cx="278.0" cy="335.5" r="6.25"/><circle cx="210.8" cy="358.9" r="6.25"/><circle cx="291.8" cy="316.9" r="6.25"/><circle cx="258.9" cy="351.3" r="6.25"/><circle cx="258.9" cy="356.8" r="6.25"/><circle cx="241.7" cy="328.6" r="6.25"/><circle cx="232.1" cy="351.8" r="6.25"/><circle cx="267.8" cy="362.4" r="6.25"/><circle cx="294.6" cy="363.7" r="6.25"/><circle cx="329.0" cy="357.9" r="6.25"/><circle cx="209.6" cy="317.6" r="6.25"/><circle cx="283.6" cy="321.1" r="6.25"/><circle cx="313.9" cy="305.8" r="6.25"/><circle cx="291.5" cy="375.0" r="6.25"/><circle cx="259.6" cy="346.6" r="6.25"/><circle cx="273.0" cy="365.9" r="6.25"/><circle cx="285.9" cy="382.6" r="6.25"/><circle cx="291.9" cy="292.3" r="6.25"/><circle cx="268.0" cy="381.9" r="6.25"/><circle cx="321.1" cy="376.4" r="6.25"/><circle cx="303.6" cy="338.5" r="6.25"/><circle cx="272.6" cy="314.8" r="6.25"/><circle cx="192.8" cy="316.6" r="6.25"/><circle cx="330.2" cy="343.0" r="6.25"/><circle cx="319.5" cy="367.8" r="6.25"/><circle cx="251.7" cy="339.9" r="6.25"/><circle cx="290.1" cy="370.1" r="6.25"/><circle cx="293.1" cy="342.2" r="6.25"/><circle cx="270.0" cy="357.2" r="6.25"/><circle cx="199.1" cy="328.5" r="6.25"/><circle cx="248.4" cy="376.8" r="6.25"/><circle cx="305.3" cy="320.0" r="6.25"/><circle cx="219.5" cy="345.5" r="6.25"/><circle cx="201.1" cy="320.9" r="6.25"/><circle cx="320.0" cy="303.2" r="6.25"/><circle cx="282.0" cy="371.0" r="6.25"/><circle cx="297.9" cy="334.7" r="6.25"/><circle cx="254.6" cy="364.9" r="6.25"/><circle cx="287.9" cy="314.7" r="6.25"/><circle cx="311.1" cy="381.6" r="6.25"/><circle cx="266.9" cy="358.4" r="6.25"/><circle cx="258.0" cy="336.3" r="6.25"/><circle cx="271.2" cy="377.8" r="6.25"/><circle cx="209.5" cy="308.5" r="6.25"/><circle cx="213.0" cy="346.1" r="6.25"/><circle cx="303.4" cy="328.9" r="6.25"/><circle cx="235.3" cy="313.1" r="6.25"/><circle cx="202.8" cy="318.2" r="6.25"/><circle cx="229.5" cy="337.2" r="6.25"/><circle cx="228.5" cy="323.3" r="6.25"/><circle cx="213.5" cy="361.0" r="6.25"/><circle cx="331.0" cy="324.5" r="6.25"/><circle cx="288.3" cy="366.7" r="6.25"/><circle cx="300.4" cy="349.5" r="6.25"/><circle cx="250.3" cy="370.5" r="6.25"/><circle cx="303.0" cy="368.3" r="6.25"/><circle cx="307.4" cy="320.6" r="6.25"/><circle cx="263.5" cy="327.6" r="6.25"/><circle cx="244.2" cy="356.4" r="6.25"/><circle cx="233.6" cy="341.6" r="6.25"/><circle cx="316.7" cy="308.4" r="6.25"/><circle cx="299.8" cy="319.5" r="6.25"/><circle cx="243.5" cy="335.3" r="6.25"/><circle cx="297.5" cy="298.8" r="6.25"/><circle cx="228.3" cy="328.9" r="6.25"/><circle cx="305.2" cy="286.8" r="6.25"/><circle cx="283.7" cy="328.9" r="6.25"/><circle cx="226.1" cy="310.2" r="6.25"/><circle cx="305.7" cy="361.3" r="6.25"/><circle cx="292.1" cy="318.3" r="6.25"/><circle cx="255.5" cy="323.5" r="6.25"/><circle cx="330.8" cy="353.5" r="6.25"/><circle cx="274.7" cy="370.9" r="6.25"/><circle cx="208.8" cy="324.4" r="6.25"/><circle cx="202.9" cy="332.4" r="6.25"/><circle cx="283.4" cy="361.0" r="6.25"/><circle cx="203.1" cy="323.7" r="6.25"/><circle cx="304.9" cy="308.9" r="6.25"/><circle cx="243.8" cy="322.2" r="6.25"/><circle cx="310.2" cy="294.1" r="6.25"/><circle cx="286.8" cy="353.1" r="6.25"/><circle cx="310.1" cy="366.0" r="6.25"/><circle cx="298.4" cy="388.4" r="6.25"/><circle cx="271.5" cy="348.7" r="6.25"/><circle cx="298.2" cy="372.9" r="6.25"/><circle cx="280.1" cy="306.6" r="6.25"/><circle cx="315.5" cy="313.9" r="6.25"/><circle cx="203.5" cy="316.5" r="6.25"/><circle cx="274.3" cy="354.7" r="6.25"/><circle cx="290.7" cy="334.6" r="6.25"/><circle cx="327.2" cy="330.6" r="6.25"/></g><g fill="#0000ff" fill-opacity="0.3" stroke="#000" stroke-opacity="0.3" stroke-width="2.0"><circle cx="376.0" cy="568.8" r="6.25"/><circle cx="325.3" cy="158.8" r="6.25"/><circle cx="314.0" cy="179.2" r="6.25"/><circle cx="326.9" cy="198.2" r="6.25"/><circle cx="298.0" cy="217.2" r="6.25"/><circle cx="335.9" cy="228.8" r="6.25"/><circle cx="348.3" cy="245.6" r="6.25"/><circle cx="325.7" cy="243.4" r="6.25"/><circle cx="334.5" cy="245.6" r="6.25"/><circle cx="260.3" cy="230.7" r="6.25"/><circle cx="266.0" cy="243.5" r="6.25"/><circle cx="292.1" cy="244.9" r="6.25"/><circle cx="365.5" cy="151.4" r="6.25"/><circle cx="360.7" cy="158.6" r="6.25"/><circle cx="363.9" cy="154.6" r="6.25"/><circle cx="366.8" cy="178.7" r="6.25"/><circle cx="378.3" cy="201.2" r="6.25"/><circle cx="384.7" cy="204.4" r="6.25"/><circle cx="201.9" cy="292.0" r="6.25"/><circle cx="201.9" cy="292.0" r="6.25"/><circle cx="201.9" cy="292.0" r="6.25"/><circle cx="329.6" cy="259.1" r="6.25"/><circle cx="342.8" cy="270.8" r="6.25"/><circle cx="331.1" cy="276.6" r="6.25"/><circle cx="344.2" cy="296.4" r="6.25"/><circle cx="308.5" cy="278.1" r="6.25"/><circle cx="312.1" cy="292.7" r="6.25"/><circle cx="361.8" cy="251.1" r="6.25"/><circle cx="363.2" cy="262.8" r="6.25"/><circle cx="359.6" cy="286.1" r="6.25"/><circle cx="399.9" cy="226.7" r="6.25"/><circle cx="410.0" cy="253.7" r="6.25"/><circle cx="413.9" cy="270.4" r="6.25"/><circle cx="424.7" cy="271.2" r="6.25"/><circle cx="359.0" cy="300.7" r="6.25"/><circle cx="359.7" cy="340.0" r="6.25"/><circle cx="357.5" cy="351.8" r="6.25"/><circle cx="350.2" cy="376.1" r="6.25"/><circle cx="351.7" cy="396.5" r="6.25"/><circle cx="340.7" cy="403.8" r="6.25"/><circle cx="350.2" cy="415.5" r="6.25"/><circle cx="366.3" cy="446.1" r="6.25"/><circle cx="373.6" cy="456.4" r="6.25"/><circle cx="391.1" cy="471.8" r="6.25"/><circle cx="394.7" cy="468.2" r="6.25"/><circle cx="394.7" cy="468.2" r="6.25"/><circle cx="396.9" cy="462.3" r="6.25"/><circle cx="408.6" cy="463.8" r="6.25"/><circle cx="408.6" cy="463.8" r="6.25"/><circle cx="426.1" cy="458.7" r="6.25"/><circle cx="425.5" cy="309.0" r="6.25"/><circle cx="425.5" cy="309.0" r="6.25"/><circle cx="435.0" cy="312.0" r="6.25"/><circle cx="456.9" cy="387.6" r="6.25"/><circle cx="449.6" cy="432.6" r="6.25"/><circle cx="194.6" cy="322.1" r="6.25"/><circle cx="194.6" cy="322.1" r="6.25"/><circle cx="207.7" cy="318.5" r="6.25"/><circle cx="220.9" cy="315.5" r="6.25"/><circle cx="250.1" cy="322.1" r="6.25"/><circle cx="236.9" cy="325.0" r="6.25"/><circle cx="226.7" cy="336.7" r="6.25"/><circle cx="193.1" cy="339.6" r="6.25"/><circle cx="193.1" cy="339.6" r="6.25"/><circle cx="270.5" cy="341.1" r="6.25"/><circle cx="197.3" cy="292.0" r="6.25"/><circle cx="324.2" cy="311.9" r="6.25"/><circle cx="303.8" cy="314.1" r="6.25"/><circle cx="287.7" cy="329.4" r="6.25"/><circle cx="300.9" cy="341.1" r="6.25"/><circle cx="312.6" cy="342.6" r="6.25"/><circle cx="325.7" cy="348.4" r="6.25"/><circle cx="337.4" cy="346.9" r="6.25"/><circle cx="347.6" cy="344.0" r="6.25"/><circle cx="346.1" cy="328.0" r="6.25"/><circle cx="347.6" cy="335.3" r="6.25"/><circle cx="341.8" cy="323.6" r="6.25"/><circle cx="309.6" cy="357.2" r="6.25"/><circle cx="321.3" cy="367.4" r="6.25"/><circle cx="334.5" cy="367.4" r="6.25"/><circle cx="343.2" cy="371.8" r="6.25"/><circle cx="347.6" cy="310.4" r="6.25"/><circle cx="343.2" cy="300.2" r="6.25"/><circle cx="337.2" cy="405.3" r="6.25"/><circle cx="338.6" cy="367.3" r="6.25"/><circle cx="263.5" cy="541.2" r="6.25"/><circle cx="190.0" cy="318.0" r="6.25"/><circle cx="190.0" cy="318.0" r="6.25"/><circle cx="188.0" cy="338.0" r="6.25"/><circle cx="188.0" cy="338.0" r="6.25"/><circle cx="196.0" cy="342.0" r="6.25"/><circle cx="196.0" cy="342.0" r="6.25"/><circle cx="225.0" cy="320.0" r="6.25"/><circle cx="235.0" cy="322.0" r="6.25"/><circle cx="333.5" cy="328.5" r="6.25"/><circle cx="333.5" cy="328.5" r="6.25"/><circle cx="322.0" cy="346.0" r="6.25"/><circle cx="322.0" cy="346.0" r="6.25"/><circle cx="333.5" cy="363.5" r="6.25"/><circle cx="333.5" cy="363.5" r="6.25"/><circle cx="300.0" cy="360.0" r="6.25"/><circle cx="192.0" cy="290.0" r="6.25"/><circle cx="192.0" cy="290.0" r="6.25"/><circle cx="200.0" cy="296.0" r="6.25"/><circle cx="210.0" cy="293.0" r="6.25"/><circle cx="196.0" cy="326.0" r="6.25"/><circle cx="196.0" cy="326.0" r="6.25"/><circle cx="205.0" cy="328.0" r="6.25"/><circle cx="212.0" cy="322.0" r="6.25"/><circle cx="193.0" cy="348.0" r="6.25"/><circle cx="202.0" cy="340.0" r="6.25"/><circle cx="300.0" cy="335.0" r="6.25"/><circle cx="308.0" cy="345.0" r="6.25"/><circle cx="308.0" cy="345.0" r="6.25"/><circle cx="318.0" cy="340.0" r="6.25"/><circle cx="328.0" cy="338.0" r="6.25"/><circle cx="338.0" cy="352.0" r="6.25"/><circle cx="338.0" cy="352.0" r="6.25"/><circle cx="316.0" cy="360.0" r="6.25"/><circle cx="326.0" cy="372.0" r="6.25"/><circle cx="335.0" cy="378.0" r="6.25"/><circle cx="350.0" cy="355.0" r="6.25"/><circle cx="355.0" cy="336.0" r="6.25"/><circle cx="352.0" cy="325.0" r="6.25"/><circle cx="318.0" cy="325.0" r="6.25"/><circle cx="310.0" cy="318.0" r="6.25"/><circle cx="372.0" cy="197.0" r="6.25"/><circle cx="381.0" cy="206.5" r="6.25"/><circle cx="375.5" cy="205.0" r="6.25"/><circle cx="378.5" cy="275.9" r="6.25"/><circle cx="388.2" cy="433.6" r="6.25"/><circle cx="420.8" cy="424.8" r="6.25"/><circle cx="416.1" cy="371.5" r="6.25"/><circle cx="388.2" cy="422.6" r="6.25"/><circle cx="375.8" cy="249.3" r="6.25"/><circle cx="377.8" cy="377.4" r="6.25"/><circle cx="413.8" cy="417.9" r="6.25"/><circle cx="413.2" cy="400.0" r="6.25"/><circle cx="405.1" cy="421.3" r="6.25"/><circle cx="386.8" cy="319.7" r="6.25"/><circle cx="396.3" cy="241.1" r="6.25"/><circle cx="380.9" cy="416.7" r="6.25"/><circle cx="399.4" cy="402.5" r="6.25"/><circle cx="392.3" cy="363.7" r="6.25"/><circle cx="377.6" cy="394.7" r="6.25"/><circle cx="370.2" cy="321.6" r="6.25"/><circle cx="382.1" cy="272.5" r="6.25"/><circle cx="394.1" cy="384.5" r="6.25"/><circle cx="387.5" cy="260.5" r="6.25"/><circle cx="373.0" cy="311.9" r="6.25"/><circle cx="370.1" cy="282.9" r="6.25"/><circle cx="405.4" cy="385.9" r="6.25"/><circle cx="386.9" cy="439.9" r="6.25"/><circle cx="427.5" cy="433.6" r="6.25"/><circle cx="377.2" cy="421.0" r="6.25"/><circle cx="423.2" cy="432.3" r="6.25"/><circle cx="397.0" cy="448.4" r="6.25"/><circle cx="397.5" cy="366.4" r="6.25"/><circle cx="389.7" cy="412.9" r="6.25"/><circle cx="385.3" cy="236.4" r="6.25"/><circle cx="396.3" cy="449.4" r="6.25"/><circle cx="376.9" cy="408.0" r="6.25"/><circle cx="428.4" cy="375.4" r="6.25"/><circle cx="376.2" cy="323.8" r="6.25"/><circle cx="377.8" cy="355.5" r="6.25"/><circle cx="378.2" cy="220.7" r="6.25"/><circle cx="418.7" cy="413.1" r="6.25"/><circle cx="384.8" cy="353.4" r="6.25"/><circle cx="397.4" cy="304.7" r="6.25"/><circle cx="397.1" cy="236.5" r="6.25"/><circle cx="423.6" cy="377.1" r="6.25"/><circle cx="381.7" cy="301.7" r="6.25"/><circle cx="416.8" cy="444.3" r="6.25"/><circle cx="381.4" cy="342.2" r="6.25"/><circle cx="429.9" cy="438.7" r="6.25"/><circle cx="373.9" cy="385.1" r="6.25"/><circle cx="374.8" cy="318.8" r="6.25"/><circle cx="394.8" cy="376.7" r="6.25"/><circle cx="410.4" cy="420.6" r="6.25"/><circle cx="391.3" cy="225.9" r="6.25"/><circle cx="432.3" cy="406.5" r="6.25"/><circle cx="382.1" cy="441.0" r="6.25"/><circle cx="392.6" cy="391.2" r="6.25"/><circle cx="392.3" cy="344.1" r="6.25"/><circle cx="386.0" cy="410.5" r="6.25"/><circle cx="390.4" cy="281.6" r="6.25"/><circle cx="378.6" cy="426.7" r="6.25"/><circle cx="395.8" cy="295.5" r="6.25"/><circle cx="428.6" cy="408.6" r="6.25"/><circle cx="372.4" cy="381.3" r="6.25"/><circle cx="396.9" cy="395.2" r="6.25"/><circle cx="411.7" cy="404.3" r="6.25"/><circle cx="372.8" cy="355.4" r="6.25"/><circle cx="423.3" cy="380.6" r="6.25"/><circle cx="390.3" cy="265.8" r="6.25"/><circle cx="367.4" cy="293.4" r="6.25"/><circle cx="391.2" cy="236.3" r="6.25"/><circle cx="382.4" cy="306.2" r="6.25"/><circle cx="397.0" cy="247.5" r="6.25"/><circle cx="429.4" cy="389.0" r="6.25"/><circle cx="382.3" cy="398.3" r="6.25"/><circle cx="382.8" cy="413.5" r="6.25"/><circle cx="398.8" cy="326.9" r="6.25"/><circle cx="374.2" cy="214.0" r="6.25"/><circle cx="424.9" cy="423.7" r="6.25"/><circle cx="391.6" cy="397.2" r="6.25"/><circle cx="372.2" cy="387.5" r="6.25"/><circle cx="373.1" cy="240.0" r="6.25"/><circle cx="395.4" cy="258.9" r="6.25"/><circle cx="430.0" cy="431.5" r="6.25"/><circle cx="394.4" cy="404.5" r="6.25"/><circle cx="370.2" cy="278.6" r="6.25"/><circle cx="371.4" cy="282.7" r="6.25"/><circle cx="421.8" cy="398.9" r="6.25"/><circle cx="375.4" cy="423.7" r="6.25"/><circle cx="369.2" cy="258.2" r="6.25"/><circle cx="424.1" cy="383.8" r="6.25"/><circle cx="385.3" cy="432.6" r="6.25"/><circle cx="417.9" cy="443.5" r="6.25"/><circle cx="431.8" cy="400.3" r="6.25"/><circle cx="434.7" cy="425.7" r="6.25"/><circle cx="414.1" cy="407.6" r="6.25"/><circle cx="383.3" cy="439.4" r="6.25"/><circle cx="392.8" cy="272.2" r="6.25"/><circle cx="383.2" cy="346.0" r="6.25"/><circle cx="399.8" cy="350.8" r="6.25"/><circle cx="383.5" cy="401.5" r="6.25"/><circle cx="405.5" cy="375.1" r="6.25"/><circle cx="410.9" cy="410.4" r="6.25"/><circle cx="411.5" cy="355.3" r="6.25"/><circle cx="374.9" cy="237.4" r="6.25"/><circle cx="390.3" cy="316.7" r="6.25"/><circle cx="419.5" cy="424.5" r="6.25"/><circle cx="383.4" cy="406.3" r="6.25"/><circle cx="388.1" cy="430.1" r="6.25"/><circle cx="372.4" cy="399.5" r="6.25"/><circle cx="389.6" cy="286.9" r="6.25"/><circle cx="368.4" cy="387.7" r="6.25"/><circle cx="390.0" cy="235.7" r="6.25"/><circle cx="406.2" cy="436.4" r="6.25"/><circle cx="368.9" cy="349.0" r="6.25"/><circle cx="426.5" cy="437.4" r="6.25"/><circle cx="386.4" cy="258.2" r="6.25"/><circle cx="425.7" cy="442.8" r="6.25"/><circle cx="392.9" cy="276.2" r="6.25"/><circle cx="367.5" cy="323.9" r="6.25"/><circle cx="391.2" cy="262.2" r="6.25"/><circle cx="400.6" cy="323.6" r="6.25"/><circle cx="403.9" cy="412.6" r="6.25"/><circle cx="383.8" cy="244.2" r="6.25"/><circle cx="386.7" cy="374.5" r="6.25"/><circle cx="396.5" cy="353.1" r="6.25"/><circle cx="407.4" cy="361.2" r="6.25"/><circle cx="418.1" cy="365.1" r="6.25"/><circle cx="380.6" cy="256.2" r="6.25"/><circle cx="396.4" cy="341.9" r="6.25"/><circle cx="424.1" cy="439.4" r="6.25"/><circle cx="400.2" cy="432.6" r="6.25"/><circle cx="382.5" cy="244.0" r="6.25"/><circle cx="393.7" cy="230.5" r="6.25"/><circle cx="395.9" cy="372.7" r="6.25"/><circle cx="372.2" cy="263.3" r="6.25"/><circle cx="408.1" cy="394.9" r="6.25"/><circle cx="402.5" cy="413.7" r="6.25"/><circle cx="366.4" cy="266.9" r="6.25"/><circle cx="413.6" cy="374.0" r="6.25"/><circle cx="382.1" cy="435.0" r="6.25"/><circle cx="373.4" cy="432.2" r="6.25"/><circle cx="376.6" cy="361.7" r="6.25"/><circle cx="405.9" cy="415.8" r="6.25"/><circle cx="381.7" cy="449.3" r="6.25"/><circle cx="380.5" cy="440.5" r="6.25"/><circle cx="389.3" cy="323.3" r="6.25"/><circle cx="399.9" cy="354.6" r="6.25"/><circle cx="394.8" cy="444.2" r="6.25"/><circle cx="368.2" cy="273.6" r="6.25"/><circle cx="424.3" cy="372.3" r="6.25"/><circle cx="378.5" cy="249.3" r="6.25"/><circle cx="400.0" cy="384.4" r="6.25"/><circle cx="369.3" cy="410.9" r="6.25"/><circle cx="372.1" cy="432.3" r="6.25"/><circle cx="378.3" cy="284.3" r="6.25"/><circle cx="379.4" cy="290.8" r="6.25"/><circle cx="366.6" cy="306.5" r="6.25"/><circle cx="392.1" cy="223.4" r="6.25"/><circle cx="401.4" cy="445.0" r="6.25"/><circle cx="376.1" cy="232.7" r="6.25"/><circle cx="398.5" cy="328.9" r="6.25"/><circle cx="397.7" cy="287.4" r="6.25"/><circle cx="393.9" cy="267.3" r="6.25"/><circle cx="387.5" cy="368.9" r="6.25"/><circle cx="392.1" cy="348.2" r="6.25"/><circle cx="376.7" cy="361.3" r="6.25"/><circle cx="387.8" cy="397.7" r="6.25"/><circle cx="396.9" cy="436.6" r="6.25"/><circle cx="435.4" cy="425.1" r="6.25"/><circle cx="378.2" cy="366.3" r="6.25"/><circle cx="420.0" cy="416.2" r="6.25"/><circle cx="381.2" cy="313.0" r="6.25"/><circle cx="374.7" cy="244.4" r="6.25"/><circle cx="386.3" cy="366.0" r="6.25"/><circle cx="413.7" cy="354.4" r="6.25"/><circle cx="409.2" cy="380.2" r="6.25"/><circle cx="369.5" cy="232.3" r="6.25"/><circle cx="381.1" cy="326.7" r="6.25"/><circle cx="422.1" cy="446.0" r="6.25"/><circle cx="412.2" cy="365.9" r="6.25"/><circle cx="420.2" cy="386.7" r="6.25"/><circle cx="389.4" cy="419.9" r="6.25"/><circle cx="392.5" cy="398.7" r="6.25"/><circle cx="385.3" cy="238.3" r="6.25"/><circle cx="374.6" cy="365.0" r="6.25"/><circle cx="367.2" cy="278.4" r="6.25"/><circle cx="384.9" cy="287.7" r="6.25"/><circle cx="386.3" cy="382.8" r="6.25"/><circle cx="424.3" cy="417.5" r="6.25"/><circle cx="397.3" cy="252.9" r="6.25"/><circle cx="395.6" cy="399.6" r="6.25"/><circle cx="415.2" cy="383.4" r="6.25"/><circle cx="369.6" cy="236.3" r="6.25"/><circle cx="408.4" cy="351.0" r="6.25"/><circle cx="367.9" cy="351.6" r="6.25"/><circle cx="405.1" cy="369.4" r="6.25"/><circle cx="424.4" cy="413.7" r="6.25"/><circle cx="389.3" cy="329.7" r="6.25"/><circle cx="381.5" cy="377.0" r="6.25"/><circle cx="412.5" cy="424.9" r="6.25"/><circle cx="413.1" cy="387.1" r="6.25"/><circle cx="391.6" cy="415.2" r="6.25"/><circle cx="371.2" cy="229.9" r="6.25"/><circle cx="390.6" cy="303.7" r="6.25"/><circle cx="411.9" cy="379.1" r="6.25"/><circle cx="414.9" cy="447.6" r="6.25"/><circle cx="391.8" cy="286.3" r="6.25"/><circle cx="383.2" cy="342.5" r="6.25"/><circle cx="388.1" cy="228.1" r="6.25"/><circle cx="398.8" cy="443.4" r="6.25"/><circle cx="403.7" cy="389.8" r="6.25"/><circle cx="406.6" cy="350.0" r="6.25"/><circle cx="435.1" cy="410.1" r="6.25"/><circle cx="425.8" cy="376.9" r="6.25"/><circle cx="417.5" cy="420.3" r="6.25"/><circle cx="398.2" cy="345.7" r="6.25"/><circle cx="380.3" cy="327.4" r="6.25"/><circle cx="405.2" cy="393.0" r="6.25"/><circle cx="393.2" cy="447.7" r="6.25"/><circle cx="387.7" cy="307.6" r="6.25"/><circle cx="434.2" cy="420.7" r="6.25"/><circle cx="394.2" cy="253.0" r="6.25"/><circle cx="387.0" cy="263.4" r="6.25"/><circle cx="401.1" cy="393.1" r="6.25"/><circle cx="425.1" cy="404.8" r="6.25"/><circle cx="388.7" cy="251.4" r="6.25"/><circle cx="419.5" cy="402.9" r="6.25"/><circle cx="419.4" cy="377.5" r="6.25"/><circle cx="380.8" cy="235.5" r="6.25"/><circle cx="432.8" cy="388.5" r="6.25"/><circle cx="393.3" cy="296.7" r="6.25"/><circle cx="388.3" cy="217.6" r="6.25"/><circle cx="405.0" cy="400.3" r="6.25"/><circle cx="369.2" cy="275.5" r="6.25"/><circle cx="391.0" cy="376.7" r="6.25"/><circle cx="381.4" cy="278.2" r="6.25"/><circle cx="380.6" cy="318.3" r="6.25"/><circle cx="397.0" cy="414.7" r="6.25"/><circle cx="418.3" cy="425.8" r="6.25"/><circle cx="370.7" cy="233.7" r="6.25"/><circle cx="376.0" cy="411.0" r="6.25"/><circle cx="399.1" cy="426.5" r="6.25"/><circle cx="431.6" cy="394.7" r="6.25"/><circle cx="374.1" cy="330.5" r="6.25"/><circle cx="372.7" cy="304.9" r="6.25"/><circle cx="423.2" cy="388.6" r="6.25"/><circle cx="436.3" cy="406.4" r="6.25"/><circle cx="399.6" cy="384.0" r="6.25"/><circle cx="382.0" cy="324.2" r="6.25"/><circle cx="400.2" cy="413.9" r="6.25"/><circle cx="383.9" cy="274.2" r="6.25"/><circle cx="404.5" cy="396.0" r="6.25"/><circle cx="374.3" cy="218.0" r="6.25"/><circle cx="421.2" cy="394.5" r="6.25"/><circle cx="370.7" cy="376.3" r="6.25"/><circle cx="412.1" cy="387.3" r="6.25"/><circle cx="408.7" cy="358.2" r="6.25"/><circle cx="392.4" cy="413.9" r="6.25"/><circle cx="413.0" cy="432.6" r="6.25"/><circle cx="383.1" cy="241.6" r="6.25"/><circle cx="401.0" cy="339.4" r="6.25"/><circle cx="378.2" cy="231.5" r="6.25"/><circle cx="400.9" cy="352.4" r="6.25"/><circle cx="394.7" cy="448.1" r="6.25"/><circle cx="393.3" cy="336.1" r="6.25"/><circle cx="369.1" cy="315.9" r="6.25"/><circle cx="398.1" cy="323.6" r="6.25"/><circle cx="417.0" cy="374.6" r="6.25"/><circle cx="400.1" cy="403.2" r="6.25"/><circle cx="374.3" cy="348.1" r="6.25"/><circle cx="386.0" cy="252.5" r="6.25"/><circle cx="391.2" cy="425.5" r="6.25"/><circle cx="368.1" cy="338.3" r="6.25"/><circle cx="380.1" cy="288.5" r="6.25"/><circle cx="395.1" cy="233.8" r="6.25"/><circle cx="418.9" cy="440.0" r="6.25"/><circle cx="376.1" cy="409.0" r="6.25"/><circle cx="411.0" cy="426.8" r="6.25"/><circle cx="383.7" cy="426.1" r="6.25"/><circle cx="379.4" cy="429.2" r="6.25"/><circle cx="387.4" cy="343.7" r="6.25"/><circle cx="406.9" cy="450.6" r="6.25"/><circle cx="414.1" cy="397.0" r="6.25"/><circle cx="379.9" cy="381.4" r="6.25"/><circle cx="380.6" cy="418.8" r="6.25"/><circle cx="373.5" cy="278.5" r="6.25"/><circle cx="409.1" cy="385.7" r="6.25"/><circle cx="411.8" cy="370.4" r="6.25"/><circle cx="398.3" cy="384.9" r="6.25"/><circle cx="380.0" cy="297.4" r="6.25"/><circle cx="419.0" cy="388.7" r="6.25"/><circle cx="377.0" cy="213.5" r="6.25"/><circle cx="423.6" cy="428.4" r="6.25"/><circle cx="369.4" cy="302.3" r="6.25"/><circle cx="371.3" cy="420.7" r="6.25"/><circle cx="375.6" cy="349.9" r="6.25"/><circle cx="400.9" cy="377.0" r="6.25"/><circle cx="414.9" cy="440.6" r="6.25"/><circle cx="424.4" cy="435.2" r="6.25"/><circle cx="382.6" cy="230.2" r="6.25"/><circle cx="404.1" cy="436.4" r="6.25"/><circle cx="384.0" cy="230.0" r="6.25"/><circle cx="382.8" cy="249.4" r="6.25"/><circle cx="375.2" cy="262.8" r="6.25"/><circle cx="394.5" cy="428.7" r="6.25"/><circle cx="374.1" cy="227.5" r="6.25"/><circle cx="409.1" cy="423.5" r="6.25"/><circle cx="405.1" cy="424.5" r="6.25"/><circle cx="372.0" cy="395.3" r="6.25"/><circle cx="384.1" cy="311.9" r="6.25"/><circle cx="394.1" cy="420.2" r="6.25"/><circle cx="408.9" cy="350.1" r="6.25"/><circle cx="413.8" cy="433.7" r="6.25"/><circle cx="433.7" cy="429.2" r="6.25"/><circle cx="429.7" cy="398.1" r="6.25"/><circle cx="387.9" cy="394.7" r="6.25"/><circle cx="398.2" cy="388.7" r="6.25"/><circle cx="392.4" cy="236.8" r="6.25"/><circle cx="376.3" cy="406.5" r="6.25"/><circle cx="371.6" cy="335.2" r="6.25"/><circle cx="385.0" cy="334.4" r="6.25"/><circle cx="392.9" cy="312.0" r="6.25"/><circle cx="388.4" cy="451.4" r="6.25"/><circle cx="394.2" cy="324.8" r="6.25"/><circle cx="381.5" cy="431.8" r="6.25"/><circle cx="383.3" cy="392.7" r="6.25"/><circle cx="382.6" cy="366.5" r="6.25"/><circle cx="397.6" cy="289.3" r="6.25"/><circle cx="373.4" cy="255.5" r="6.25"/><circle cx="397.9" cy="310.6" r="6.25"/><circle cx="422.4" cy="395.7" r="6.25"/><circle cx="390.4" cy="267.1" r="6.25"/><circle cx="429.6" cy="419.4" r="6.25"/><circle cx="391.7" cy="351.8" r="6.25"/><circle cx="380.5" cy="360.4" r="6.25"/><circle cx="377.6" cy="308.0" r="6.25"/><circle cx="391.1" cy="374.4" r="6.25"/><circle cx="387.5" cy="451.1" r="6.25"/><circle cx="374.7" cy="298.1" r="6.25"/><circle cx="404.5" cy="406.4" r="6.25"/><circle cx="398.8" cy="298.5" r="6.25"/><circle cx="384.7" cy="423.9" r="6.25"/><circle cx="421.8" cy="440.7" r="6.25"/><circle cx="366.9" cy="298.2" r="6.25"/><circle cx="367.9" cy="343.3" r="6.25"/><circle cx="383.8" cy="371.1" r="6.25"/><circle cx="378.3" cy="337.0" r="6.25"/><circle cx="375.5" cy="267.3" r="6.25"/><circle cx="389.2" cy="390.1" r="6.25"/><circle cx="380.9" cy="269.7" r="6.25"/><circle cx="429.9" cy="387.7" r="6.25"/><circle cx="386.7" cy="384.4" r="6.25"/><circle cx="390.5" cy="404.5" r="6.25"/><circle cx="376.0" cy="254.4" r="6.25"/><circle cx="379.5" cy="265.1" r="6.25"/><circle cx="392.3" cy="247.5" r="6.25"/><circle cx="393.0" cy="304.2" r="6.25"/><circle cx="394.2" cy="249.4" r="6.25"/><circle cx="420.0" cy="374.2" r="6.25"/><circle cx="389.0" cy="359.3" r="6.25"/><circle cx="431.1" cy="440.1" r="6.25"/><circle cx="391.6" cy="244.6" r="6.25"/><circle cx="431.3" cy="421.5" r="6.25"/><circle cx="376.6" cy="297.0" r="6.25"/><circle cx="376.0" cy="370.5" r="6.25"/><circle cx="415.6" cy="357.2" r="6.25"/><circle cx="394.8" cy="300.7" r="6.25"/><circle cx="380.4" cy="242.7" r="6.25"/><circle cx="392.5" cy="331.3" r="6.25"/><circle cx="384.5" cy="362.9" r="6.25"/><circle cx="368.8" cy="223.7" r="6.25"/><circle cx="402.4" cy="408.4" r="6.25"/><circle cx="383.3" cy="215.5" r="6.25"/><circle cx="409.5" cy="411.0" r="6.25"/><circle cx="388.7" cy="446.5" r="6.25"/><circle cx="380.2" cy="301.7" r="6.25"/><circle cx="386.2" cy="401.7" r="6.25"/><circle cx="405.2" cy="429.4" r="6.25"/><circle cx="384.1" cy="319.8" r="6.25"/><circle cx="430.2" cy="409.2" r="6.25"/><circle cx="367.9" cy="384.6" r="6.25"/><circle cx="392.5" cy="291.9" r="6.25"/><circle cx="387.0" cy="269.7" r="6.25"/><circle cx="406.3" cy="387.8" r="6.25"/><circle cx="407.8" cy="451.7" r="6.25"/><circle cx="370.7" cy="425.3" r="6.25"/><circle cx="403.3" cy="437.4" r="6.25"/><circle cx="402.8" cy="424.7" r="6.25"/><circle cx="369.4" cy="409.0" r="6.25"/><circle cx="397.6" cy="265.0" r="6.25"/><circle cx="410.5" cy="397.9" r="6.25"/><circle cx="403.8" cy="440.9" r="6.25"/><circle cx="381.2" cy="446.2" r="6.25"/><circle cx="409.5" cy="394.1" r="6.25"/><circle cx="395.9" cy="391.1" r="6.25"/><circle cx="412.0" cy="359.6" r="6.25"/><circle cx="401.3" cy="366.0" r="6.25"/><circle cx="388.2" cy="378.6" r="6.25"/><circle cx="401.4" cy="331.2" r="6.25"/><circle cx="377.2" cy="314.1" r="6.25"/><circle cx="369.8" cy="291.1" r="6.25"/><circle cx="393.8" cy="314.0" r="6.25"/><circle cx="404.3" cy="403.6" r="6.25"/><circle cx="425.3" cy="372.3" r="6.25"/><circle cx="380.3" cy="319.9" r="6.25"/><circle cx="408.9" cy="377.8" r="6.25"/><circle cx="399.8" cy="359.2" r="6.25"/><circle cx="399.2" cy="370.5" r="6.25"/><circle cx="390.3" cy="289.6" r="6.25"/><circle cx="370.3" cy="330.9" r="6.25"/><circle cx="377.6" cy="365.1" r="6.25"/><circle cx="416.6" cy="394.8" r="6.25"/><circle cx="382.0" cy="353.7" r="6.25"/><circle cx="371.9" cy="405.0" r="6.25"/><circle cx="385.1" cy="217.6" r="6.25"/><circle cx="386.3" cy="405.0" r="6.25"/><circle cx="389.5" cy="235.0" r="6.25"/><circle cx="386.5" cy="315.7" r="6.25"/><circle cx="388.0" cy="357.3" r="6.25"/><circle cx="379.2" cy="272.2" r="6.25"/><circle cx="377.3" cy="341.0" r="6.25"/><circle cx="416.2" cy="406.3" r="6.25"/><circle cx="375.4" cy="441.2" r="6.25"/><circle cx="409.7" cy="401.6" r="6.25"/><circle cx="377.3" cy="372.4" r="6.25"/><circle cx="388.1" cy="274.9" r="6.25"/><circle cx="376.2" cy="290.7" r="6.25"/><circle cx="376.0" cy="331.1" r="6.25"/><circle cx="408.4" cy="447.5" r="6.25"/><circle cx="391.3" cy="229.9" r="6.25"/><circle cx="382.2" cy="296.5" r="6.25"/><circle cx="387.6" cy="289.5" r="6.25"/><circle cx="389.1" cy="407.5" r="6.25"/><circle cx="369.8" cy="242.7" r="6.25"/><circle cx="371.2" cy="345.7" r="6.25"/><circle cx="388.5" cy="334.4" r="6.25"/><circle cx="377.3" cy="294.9" r="6.25"/><circle cx="374.6" cy="391.5" r="6.25"/><circle cx="378.2" cy="332.8" r="6.25"/><circle cx="373.4" cy="296.8" r="6.25"/><circle cx="373.6" cy="439.9" r="6.25"/><circle cx="372.9" cy="353.1" r="6.25"/><circle cx="368.3" cy="387.6" r="6.25"/><circle cx="375.5" cy="259.3" r="6.25"/><circle cx="392.3" cy="281.9" r="6.25"/><circle cx="370.7" cy="353.7" r="6.25"/><circle cx="384.2" cy="359.9" r="6.25"/><circle cx="369.8" cy="226.3" r="6.25"/><circle cx="369.2" cy="246.3" r="6.25"/><circle cx="370.6" cy="364.1" r="6.25"/><circle cx="388.2" cy="314.7" r="6.25"/><circle cx="376.4" cy="416.9" r="6.25"/><circle cx="370.1" cy="334.4" r="6.25"/><circle cx="382.4" cy="351.9" r="6.25"/><circle cx="393.4" cy="331.1" r="6.25"/><circle cx="386.4" cy="285.8" r="6.25"/><circle cx="381.0" cy="224.3" r="6.25"/><circle cx="370.1" cy="394.4" r="6.25"/><circle cx="370.4" cy="311.6" r="6.25"/><circle cx="375.9" cy="241.7" r="6.25"/><circle cx="430.6" cy="381.5" r="6.25"/><circle cx="374.9" cy="305.1" r="6.25"/><circle cx="393.4" cy="261.8" r="6.25"/><circle cx="386.4" cy="444.3" r="6.25"/><circle cx="381.9" cy="404.3" r="6.25"/><circle cx="379.4" cy="334.5" r="6.25"/><circle cx="388.7" cy="342.8" r="6.25"/><circle cx="412.6" cy="395.3" r="6.25"/><circle cx="433.2" cy="435.8" r="6.25"/><circle cx="378.8" cy="223.4" r="6.25"/><circle cx="432.8" cy="381.6" r="6.25"/><circle cx="388.5" cy="447.7" r="6.25"/><circle cx="396.9" cy="408.3" r="6.25"/><circle cx="415.2" cy="362.5" r="6.25"/><circle cx="369.5" cy="368.6" r="6.25"/><circle cx="370.7" cy="342.0" r="6.25"/><circle cx="417.0" cy="403.2" r="6.25"/><circle cx="383.0" cy="332.2" r="6.25"/><circle cx="419.0" cy="359.8" r="6.25"/><circle cx="388.8" cy="361.5" r="6.25"/><circle cx="417.7" cy="388.7" r="6.25"/><circle cx="412.2" cy="383.8" r="6.25"/><circle cx="393.8" cy="355.5" r="6.25"/><circle cx="396.3" cy="279.5" r="6.25"/><circle cx="403.9" cy="358.9" r="6.25"/><circle cx="408.4" cy="431.6" r="6.25"/><circle cx="384.5" cy="222.5" r="6.25"/><circle cx="402.8" cy="437.7" r="6.25"/><circle cx="389.0" cy="349.5" r="6.25"/><circle cx="369.6" cy="288.3" r="6.25"/><circle cx="407.7" cy="367.0" r="6.25"/><circle cx="407.0" cy="343.6" r="6.25"/><circle cx="381.6" cy="387.3" r="6.25"/><circle cx="387.4" cy="300.8" r="6.25"/><circle cx="387.8" cy="243.1" r="6.25"/><circle cx="390.2" cy="277.9" r="6.25"/><circle cx="407.5" cy="437.5" r="6.25"/><circle cx="381.2" cy="384.7" r="6.25"/><circle cx="407.8" cy="427.7" r="6.25"/><circle cx="374.1" cy="436.2" r="6.25"/><circle cx="405.1" cy="372.2" r="6.25"/><circle cx="409.8" cy="407.7" r="6.25"/><circle cx="370.8" cy="327.1" r="6.25"/><circle cx="430.3" cy="412.9" r="6.25"/><circle cx="368.6" cy="220.9" r="6.25"/><circle cx="419.2" cy="420.6" r="6.25"/><circle cx="380.2" cy="238.5" r="6.25"/><circle cx="400.7" cy="435.0" r="6.25"/><circle cx="418.1" cy="451.1" r="6.25"/><circle cx="392.7" cy="421.8" r="6.25"/><circle cx="394.2" cy="433.1" r="6.25"/><circle cx="367.4" cy="252.4" r="6.25"/><circle cx="374.0" cy="265.8" r="6.25"/><circle cx="371.6" cy="261.8" r="6.25"/><circle cx="375.6" cy="332.2" r="6.25"/><circle cx="384.6" cy="225.0" r="6.25"/><circle cx="376.7" cy="378.0" r="6.25"/><circle cx="391.6" cy="300.9" r="6.25"/><circle cx="373.9" cy="426.5" r="6.25"/><circle cx="424.9" cy="419.1" r="6.25"/><circle cx="427.9" cy="425.7" r="6.25"/><circle cx="382.8" cy="415.9" r="6.25"/><circle cx="422.3" cy="381.6" r="6.25"/><circle cx="390.4" cy="440.2" r="6.25"/><circle cx="387.9" cy="340.7" r="6.25"/><circle cx="425.9" cy="384.3" r="6.25"/><circle cx="369.3" cy="250.3" r="6.25"/><circle cx="378.0" cy="396.8" r="6.25"/><circle cx="394.3" cy="369.1" r="6.25"/><circle cx="411.7" cy="352.0" r="6.25"/><circle cx="407.5" cy="442.6" r="6.25"/><circle cx="419.5" cy="401.9" r="6.25"/><circle cx="388.9" cy="417.2" r="6.25"/><circle cx="374.0" cy="303.7" r="6.25"/><circle cx="368.3" cy="297.1" r="6.25"/><circle cx="384.1" cy="264.7" r="6.25"/><circle cx="370.3" cy="395.0" r="6.25"/><circle cx="386.3" cy="279.9" r="6.25"/><circle cx="380.6" cy="421.3" r="6.25"/><circle cx="368.4" cy="259.4" r="6.25"/><circle cx="380.3" cy="391.4" r="6.25"/><circle cx="373.6" cy="358.0" r="6.25"/><circle cx="386.5" cy="323.3" r="6.25"/><circle cx="407.2" cy="353.8" r="6.25"/><circle cx="414.1" cy="364.7" r="6.25"/><circle cx="395.5" cy="349.6" r="6.25"/><circle cx="425.7" cy="398.0" r="6.25"/><circle cx="374.7" cy="410.5" r="6.25"/><circle cx="378.2" cy="226.6" r="6.25"/><circle cx="425.6" cy="417.3" r="6.25"/><circle cx="374.3" cy="292.3" r="6.25"/><circle cx="373.9" cy="278.1" r="6.25"/><circle cx="379.5" cy="348.5" r="6.25"/><circle cx="380.6" cy="282.0" r="6.25"/><circle cx="391.4" cy="335.2" r="6.25"/><circle cx="391.6" cy="392.6" r="6.25"/><circle cx="383.0" cy="259.3" r="6.25"/><circle cx="426.0" cy="391.4" r="6.25"/><circle cx="419.8" cy="365.4" r="6.25"/><circle cx="368.3" cy="366.0" r="6.25"/><circle cx="385.6" cy="330.0" r="6.25"/><circle cx="432.8" cy="418.0" r="6.25"/><circle cx="414.5" cy="436.0" r="6.25"/><circle cx="430.1" cy="378.6" r="6.25"/><circle cx="398.8" cy="418.7" r="6.25"/><circle cx="388.8" cy="366.6" r="6.25"/><circle cx="411.6" cy="443.0" r="6.25"/><circle cx="397.3" cy="281.7" r="6.25"/><circle cx="380.6" cy="400.5" r="6.25"/><circle cx="403.9" cy="448.4" r="6.25"/><circle cx="377.1" cy="436.3" r="6.25"/><circle cx="391.8" cy="380.5" r="6.25"/><circle cx="405.1" cy="444.3" r="6.25"/><circle cx="398.7" cy="336.3" r="6.25"/><circle cx="375.3" cy="214.5" r="6.25"/><circle cx="415.0" cy="352.5" r="6.25"/><circle cx="386.0" cy="249.7" r="6.25"/><circle cx="422.2" cy="436.0" r="6.25"/><circle cx="370.8" cy="246.4" r="6.25"/><circle cx="388.3" cy="295.7" r="6.25"/><circle cx="379.9" cy="372.5" r="6.25"/><circle cx="369.6" cy="315.8" r="6.25"/><circle cx="414.7" cy="413.4" r="6.25"/><circle cx="408.3" cy="416.1" r="6.25"/><circle cx="378.7" cy="278.5" r="6.25"/><circle cx="391.3" cy="408.8" r="6.25"/><circle cx="396.8" cy="274.4" r="6.25"/><circle cx="376.9" cy="381.6" r="6.25"/><circle cx="376.4" cy="323.6" r="6.25"/><circle cx="406.9" cy="361.4" r="6.25"/><circle cx="393.5" cy="402.3" r="6.25"/><circle cx="393.6" cy="429.6" r="6.25"/><circle cx="427.9" cy="445.2" r="6.25"/><circle cx="421.2" cy="406.5" r="6.25"/><circle cx="401.7" cy="346.7" r="6.25"/><circle cx="396.4" cy="316.7" r="6.25"/><circle cx="374.9" cy="376.3" r="6.25"/><circle cx="384.7" cy="445.2" r="6.25"/><circle cx="396.3" cy="429.1" r="6.25"/><circle cx="434.4" cy="394.8" r="6.25"/><circle cx="426.4" cy="429.1" r="6.25"/><circle cx="425.1" cy="371.3" r="6.25"/><circle cx="397.0" cy="361.5" r="6.25"/><circle cx="396.6" cy="422.3" r="6.25"/><circle cx="411.1" cy="450.5" r="6.25"/><circle cx="396.0" cy="383.2" r="6.25"/><circle cx="428.9" cy="401.7" r="6.25"/><circle cx="421.0" cy="450.4" r="6.25"/><circle cx="391.8" cy="243.0" r="6.25"/><circle cx="423.2" cy="362.0" r="6.25"/><circle cx="396.1" cy="353.6" r="6.25"/><circle cx="375.7" cy="345.5" r="6.25"/><circle cx="372.8" cy="223.8" r="6.25"/><circle cx="384.3" cy="391.3" r="6.25"/><circle cx="389.5" cy="444.3" r="6.25"/><circle cx="393.7" cy="259.0" r="6.25"/><circle cx="373.4" cy="339.9" r="6.25"/><circle cx="425.1" cy="365.7" r="6.25"/><circle cx="399.4" cy="374.4" r="6.25"/><circle cx="372.0" cy="319.8" r="6.25"/><circle cx="387.5" cy="299.8" r="6.25"/><circle cx="382.4" cy="276.1" r="6.25"/><circle cx="408.5" cy="418.6" r="6.25"/><circle cx="416.4" cy="432.5" r="6.25"/><circle cx="393.7" cy="452.7" r="6.25"/><circle cx="398.4" cy="305.7" r="6.25"/><circle cx="392.5" cy="320.1" r="6.25"/><circle cx="399.3" cy="453.2" r="6.25"/><circle cx="404.5" cy="342.2" r="6.25"/><circle cx="390.3" cy="339.2" r="6.25"/><circle cx="378.7" cy="429.7" r="6.25"/><circle cx="382.1" cy="256.2" r="6.25"/><circle cx="385.8" cy="272.4" r="6.25"/><circle cx="384.8" cy="315.5" r="6.25"/><circle cx="380.9" cy="255.1" r="6.25"/><circle cx="378.7" cy="388.4" r="6.25"/><circle cx="366.4" cy="273.4" r="6.25"/><circle cx="370.1" cy="416.6" r="6.25"/><circle cx="393.8" cy="360.8" r="6.25"/><circle cx="387.4" cy="420.3" r="6.25"/><circle cx="408.9" cy="402.7" r="6.25"/><circle cx="399.3" cy="363.5" r="6.25"/><circle cx="404.2" cy="428.6" r="6.25"/><circle cx="427.0" cy="403.1" r="6.25"/><circle cx="376.6" cy="286.1" r="6.25"/><circle cx="373.8" cy="269.6" r="6.25"/><circle cx="395.3" cy="332.2" r="6.25"/><circle cx="371.0" cy="379.2" r="6.25"/><circle cx="374.9" cy="309.2" r="6.25"/><circle cx="394.9" cy="372.5" r="6.25"/><circle cx="366.7" cy="263.2" r="6.25"/><circle cx="375.1" cy="399.1" r="6.25"/><circle cx="389.6" cy="310.0" r="6.25"/><circle cx="375.4" cy="272.4" r="6.25"/><circle cx="411.4" cy="370.2" r="6.25"/><circle cx="418.3" cy="429.2" r="6.25"/><circle cx="401.5" cy="383.1" r="6.25"/><circle cx="406.9" cy="378.4" r="6.25"/><circle cx="392.1" cy="304.3" r="6.25"/><circle cx="395.6" cy="366.1" r="6.25"/><circle cx="367.1" cy="311.4" r="6.25"/><circle cx="324.8" cy="325.7" r="6.25"/><circle cx="324.9" cy="351.5" r="6.25"/><circle cx="344.9" cy="362.2" r="6.25"/><circle cx="337.9" cy="340.9" r="6.25"/><circle cx="324.4" cy="320.0" r="6.25"/><circle cx="323.6" cy="366.1" r="6.25"/><circle cx="340.0" cy="339.8" r="6.25"/><circle cx="333.3" cy="368.5" r="6.25"/><circle cx="345.9" cy="359.0" r="6.25"/><circle cx="342.4" cy="319.6" r="6.25"/><circle cx="342.1" cy="339.3" r="6.25"/><circle cx="336.0" cy="360.3" r="6.25"/><circle cx="337.5" cy="329.8" r="6.25"/><circle cx="338.1" cy="318.0" r="6.25"/><circle cx="321.0" cy="338.0" r="6.25"/></g><g fill="#008000" fill-opacity="0.3" stroke="#000" stroke-opacity="0.3" stroke-width="2.0"><circle cx="347.2" cy="285.4" r="6.25"/><circle cx="294.6" cy="290.5" r="6.25"/><circle cx="417.4" cy="235.5" r="6.25"/><circle cx="413.0" cy="263.2" r="6.25"/><circle cx="432.0" cy="267.6" r="6.25"/><circle cx="436.4" cy="273.4" r="6.25"/><circle cx="413.1" cy="285.7" r="6.25"/><circle cx="423.4" cy="299.6" r="6.25"/><circle cx="470.1" cy="304.7" r="6.25"/><circle cx="432.0" cy="324.0" r="6.25"/><circle cx="409.5" cy="254.3" r="6.25"/><circle cx="445.3" cy="333.6" r="6.25"/><circle cx="473.0" cy="331.4" r="6.25"/><circle cx="471.5" cy="339.4" r="6.25"/><circle cx="463.5" cy="343.1" r="6.25"/><circle cx="471.5" cy="349.6" r="6.25"/><circle cx="449.6" cy="346.7" r="6.25"/><circle cx="439.4" cy="354.0" r="6.25"/><circle cx="456.9" cy="359.9" r="6.25"/><circle cx="468.6" cy="364.2" r="6.25"/><circle cx="479.6" cy="364.2" r="6.25"/><circle cx="493.4" cy="370.8" r="6.25"/><circle cx="486.1" cy="384.7" r="6.25"/><circle cx="497.1" cy="392.0" r="6.25"/><circle cx="442.3" cy="368.6" r="6.25"/><circle cx="442.3" cy="368.6" r="6.25"/><circle cx="439.4" cy="375.9" r="6.25"/><circle cx="467.2" cy="375.9" r="6.25"/><circle cx="467.2" cy="375.9" r="6.25"/><circle cx="471.5" cy="384.7" r="6.25"/><circle cx="475.9" cy="393.4" r="6.25"/><circle cx="445.3" cy="390.5" r="6.25"/><circle cx="456.9" cy="387.6" r="6.25"/><circle cx="478.8" cy="399.0" r="6.25"/><circle cx="484.7" cy="407.7" r="6.25"/><circle cx="484.7" cy="407.7" r="6.25"/><circle cx="484.7" cy="407.7" r="6.25"/><circle cx="487.6" cy="419.4" r="6.25"/><circle cx="493.4" cy="419.4" r="6.25"/><circle cx="475.9" cy="431.1" r="6.25"/><circle cx="490.5" cy="436.9" r="6.25"/><circle cx="496.4" cy="450.1" r="6.25"/><circle cx="465.7" cy="444.2" r="6.25"/><circle cx="473.0" cy="444.2" r="6.25"/><circle cx="478.8" cy="441.3" r="6.25"/><circle cx="455.5" cy="451.5" r="6.25"/><circle cx="443.8" cy="466.9" r="6.25"/><circle cx="446.7" cy="473.4" r="6.25"/><circle cx="439.4" cy="470.5" r="6.25"/><circle cx="368.5" cy="459.4" r="6.25"/><circle cx="405.7" cy="493.7" r="6.25"/><circle cx="418.1" cy="488.6" r="6.25"/><circle cx="496.8" cy="372.0" r="6.25"/><circle cx="505.5" cy="382.3" r="6.25"/><circle cx="501.9" cy="393.9" r="6.25"/><circle cx="486.6" cy="399.1" r="6.25"/><circle cx="504.1" cy="404.9" r="6.25"/><circle cx="525.3" cy="406.4" r="6.25"/><circle cx="537.7" cy="382.3" r="6.25"/><circle cx="542.8" cy="384.5" r="6.25"/><circle cx="559.6" cy="405.6" r="6.25"/><circle cx="513.6" cy="418.4" r="6.25"/><circle cx="528.9" cy="421.3" r="6.25"/><circle cx="481.5" cy="431.5" r="6.25"/><circle cx="509.9" cy="438.1" r="6.25"/><circle cx="574.2" cy="433.7" r="6.25"/><circle cx="481.5" cy="485.5" r="6.25"/><circle cx="621.0" cy="407.4" r="6.25"/><circle cx="653.4" cy="427.6" r="6.25"/><circle cx="445.3" cy="481.6" r="6.25"/><circle cx="440.9" cy="453.1" r="6.25"/><circle cx="481.8" cy="444.4" r="6.25"/><circle cx="440.0" cy="481.3" r="6.25"/><circle cx="209.2" cy="344.0" r="6.25"/><circle cx="197.5" cy="345.5" r="6.25"/><circle cx="226.7" cy="369.6" r="6.25"/><circle cx="231.1" cy="373.9" r="6.25"/><circle cx="223.6" cy="367.6" r="6.25"/><circle cx="283.4" cy="314.8" r="6.25"/><circle cx="295.0" cy="333.8" r="6.25"/><circle cx="306.7" cy="374.7" r="6.25"/><circle cx="321.3" cy="358.6" r="6.25"/><circle cx="460.0" cy="366.0" r="6.25"/><circle cx="460.0" cy="366.0" r="6.25"/><circle cx="470.0" cy="373.0" r="6.25"/><circle cx="466.0" cy="386.0" r="6.25"/><circle cx="466.0" cy="386.0" r="6.25"/><circle cx="476.0" cy="381.0" r="6.25"/><circle cx="453.0" cy="372.0" r="6.25"/><circle cx="448.0" cy="398.0" r="6.25"/><circle cx="458.0" cy="405.0" r="6.25"/><circle cx="433.2" cy="336.1" r="6.25"/><circle cx="414.9" cy="318.9" r="6.25"/><circle cx="420.2" cy="334.1" r="6.25"/><circle cx="422.8" cy="336.6" r="6.25"/><circle cx="412.8" cy="310.3" r="6.25"/><circle cx="406.1" cy="314.2" r="6.25"/><circle cx="423.2" cy="327.4" r="6.25"/><circle cx="431.9" cy="332.7" r="6.25"/><circle cx="413.5" cy="302.3" r="6.25"/><circle cx="415.3" cy="297.1" r="6.25"/><circle cx="413.1" cy="339.2" r="6.25"/><circle cx="409.5" cy="326.2" r="6.25"/><circle cx="420.5" cy="318.8" r="6.25"/><circle cx="426.4" cy="311.3" r="6.25"/><circle cx="407.9" cy="328.0" r="6.25"/><circle cx="415.8" cy="327.6" r="6.25"/><circle cx="414.9" cy="295.5" r="6.25"/><circle cx="425.4" cy="328.6" r="6.25"/><circle cx="418.9" cy="316.3" r="6.25"/><circle cx="408.9" cy="331.3" r="6.25"/><circle cx="426.8" cy="337.5" r="6.25"/><circle cx="424.3" cy="317.6" r="6.25"/><circle cx="424.4" cy="322.4" r="6.25"/><circle cx="419.6" cy="344.9" r="6.25"/><circle cx="421.0" cy="311.2" r="6.25"/><circle cx="426.4" cy="325.7" r="6.25"/><circle cx="431.2" cy="325.2" r="6.25"/><circle cx="419.5" cy="305.1" r="6.25"/><circle cx="415.8" cy="336.7" r="6.25"/><circle cx="429.3" cy="335.4" r="6.25"/><circle cx="423.3" cy="337.7" r="6.25"/><circle cx="417.7" cy="329.6" r="6.25"/><circle cx="424.5" cy="341.9" r="6.25"/><circle cx="415.5" cy="321.3" r="6.25"/><circle cx="431.4" cy="328.0" r="6.25"/><circle cx="410.4" cy="323.0" r="6.25"/><circle cx="420.3" cy="305.9" r="6.25"/><circle cx="427.8" cy="316.9" r="6.25"/><circle cx="415.6" cy="306.0" r="6.25"/><circle cx="414.5" cy="304.6" r="6.25"/><circle cx="426.5" cy="309.4" r="6.25"/><circle cx="433.7" cy="324.0" r="6.25"/><circle cx="415.9" cy="339.1" r="6.25"/><circle cx="409.0" cy="296.2" r="6.25"/><circle cx="418.5" cy="313.9" r="6.25"/><circle cx="428.7" cy="345.5" r="6.25"/><circle cx="418.4" cy="327.8" r="6.25"/><circle cx="407.0" cy="305.0" r="6.25"/><circle cx="452.3" cy="422.3" r="6.25"/><circle cx="446.2" cy="404.4" r="6.25"/><circle cx="463.3" cy="412.1" r="6.25"/><circle cx="451.0" cy="433.9" r="6.25"/><circle cx="441.0" cy="437.2" r="6.25"/><circle cx="445.3" cy="418.4" r="6.25"/><circle cx="453.7" cy="395.4" r="6.25"/><circle cx="465.4" cy="425.7" r="6.25"/><circle cx="450.7" cy="446.7" r="6.25"/><circle cx="440.9" cy="440.0" r="6.25"/><circle cx="440.3" cy="418.2" r="6.25"/><circle cx="448.1" cy="408.6" r="6.25"/><circle cx="449.0" cy="418.9" r="6.25"/><circle cx="462.1" cy="421.9" r="6.25"/><circle cx="467.5" cy="429.6" r="6.25"/><circle cx="459.6" cy="419.7" r="6.25"/><circle cx="454.2" cy="426.2" r="6.25"/><circle cx="454.2" cy="434.7" r="6.25"/><circle cx="468.1" cy="427.2" r="6.25"/><circle cx="447.7" cy="425.6" r="6.25"/><circle cx="449.4" cy="434.8" r="6.25"/><circle cx="457.0" cy="419.7" r="6.25"/><circle cx="464.6" cy="406.8" r="6.25"/><circle cx="442.6" cy="430.0" r="6.25"/><circle cx="466.0" cy="417.6" r="6.25"/><circle cx="445.2" cy="412.9" r="6.25"/><circle cx="441.0" cy="412.9" r="6.25"/><circle cx="441.2" cy="411.7" r="6.25"/><circle cx="445.3" cy="443.9" r="6.25"/><circle cx="458.2" cy="432.3" r="6.25"/><circle cx="472.2" cy="420.2" r="6.25"/><circle cx="462.2" cy="409.1" r="6.25"/><circle cx="461.8" cy="404.7" r="6.25"/><circle cx="453.3" cy="439.3" r="6.25"/><circle cx="456.8" cy="400.4" r="6.25"/><circle cx="442.1" cy="402.1" r="6.25"/><circle cx="440.1" cy="438.0" r="6.25"/><circle cx="441.3" cy="425.5" r="6.25"/><circle cx="457.8" cy="401.4" r="6.25"/><circle cx="447.3" cy="392.4" r="6.25"/><circle cx="449.9" cy="411.2" r="6.25"/><circle cx="461.1" cy="431.1" r="6.25"/><circle cx="441.7" cy="397.2" r="6.25"/><circle cx="445.4" cy="426.1" r="6.25"/><circle cx="469.0" cy="411.3" r="6.25"/><circle cx="455.2" cy="424.2" r="6.25"/><circle cx="456.4" cy="442.7" r="6.25"/><circle cx="451.1" cy="405.2" r="6.25"/><circle cx="466.6" cy="430.2" r="6.25"/><circle cx="442.2" cy="444.8" r="6.25"/><circle cx="461.2" cy="434.6" r="6.25"/><circle cx="453.8" cy="411.3" r="6.25"/><circle cx="457.2" cy="415.3" r="6.25"/><circle cx="472.9" cy="415.5" r="6.25"/><circle cx="456.0" cy="393.2" r="6.25"/><circle cx="447.9" cy="401.1" r="6.25"/><circle cx="459.3" cy="403.2" r="6.25"/><circle cx="444.5" cy="432.5" r="6.25"/><circle cx="466.8" cy="404.8" r="6.25"/><circle cx="443.5" cy="423.1" r="6.25"/><circle cx="458.9" cy="429.1" r="6.25"/><circle cx="457.6" cy="383.2" r="6.25"/><circle cx="442.1" cy="355.0" r="6.25"/><circle cx="458.5" cy="370.3" r="6.25"/><circle cx="450.5" cy="384.9" r="6.25"/><circle cx="433.2" cy="377.7" r="6.25"/><circle cx="444.2" cy="375.4" r="6.25"/><circle cx="432.2" cy="361.7" r="6.25"/><circle cx="432.4" cy="379.9" r="6.25"/><circle cx="453.9" cy="355.4" r="6.25"/><circle cx="470.7" cy="376.9" r="6.25"/><circle cx="445.9" cy="348.0" r="6.25"/><circle cx="446.8" cy="373.3" r="6.25"/><circle cx="432.4" cy="361.7" r="6.25"/><circle cx="463.4" cy="357.4" r="6.25"/><circle cx="441.6" cy="340.9" r="6.25"/><circle cx="454.5" cy="364.0" r="6.25"/><circle cx="442.8" cy="386.2" r="6.25"/><circle cx="471.7" cy="388.3" r="6.25"/><circle cx="430.3" cy="367.9" r="6.25"/><circle cx="434.9" cy="390.1" r="6.25"/><circle cx="429.2" cy="353.5" r="6.25"/><circle cx="445.7" cy="361.8" r="6.25"/><circle cx="461.7" cy="377.7" r="6.25"/><circle cx="436.8" cy="350.1" r="6.25"/><circle cx="452.3" cy="374.2" r="6.25"/><circle cx="449.7" cy="355.2" r="6.25"/><circle cx="454.5" cy="357.2" r="6.25"/><circle cx="437.2" cy="385.6" r="6.25"/><circle cx="459.0" cy="389.9" r="6.25"/><circle cx="460.4" cy="351.4" r="6.25"/><circle cx="466.7" cy="380.5" r="6.25"/><circle cx="442.0" cy="362.2" r="6.25"/><circle cx="456.8" cy="377.5" r="6.25"/><circle cx="465.6" cy="391.1" r="6.25"/><circle cx="451.4" cy="344.7" r="6.25"/><circle cx="453.7" cy="369.0" r="6.25"/><circle cx="440.3" cy="361.6" r="6.25"/><circle cx="433.1" cy="373.8" r="6.25"/><circle cx="449.4" cy="366.9" r="6.25"/><circle cx="466.5" cy="364.2" r="6.25"/><circle cx="439.5" cy="370.3" r="6.25"/><circle cx="469.3" cy="371.3" r="6.25"/><circle cx="469.8" cy="367.5" r="6.25"/><circle cx="435.5" cy="427.5" r="6.25"/><circle cx="435.3" cy="403.0" r="6.25"/><circle cx="419.6" cy="351.6" r="6.25"/><circle cx="422.6" cy="443.3" r="6.25"/><circle cx="434.2" cy="439.5" r="6.25"/><circle cx="431.5" cy="432.5" r="6.25"/><circle cx="438.1" cy="423.3" r="6.25"/><circle cx="434.9" cy="396.1" r="6.25"/><circle cx="437.2" cy="377.0" r="6.25"/><circle cx="430.4" cy="360.1" r="6.25"/><circle cx="425.0" cy="353.4" r="6.25"/><circle cx="428.0" cy="371.9" r="6.25"/></g><g fill="#0000ff" fill-opacity="0.3" stroke="#000" stroke-opacity="0.3" stroke-width="2.0"><circle cx="456.5" cy="387.2" r="6.25"/><circle cx="449.2" cy="432.6" r="6.25"/><circle cx="445.0" cy="437.0" r="6.25"/></g><line x1="356.9" y1="5.5" x2="356.9" y2="596.6" stroke="#000" stroke-width="2.8" stroke-dasharray="11.3 5.65" stroke-dashoffset="6.05"/><line x1="401.6" y1="5.5" x2="401.6" y2="596.6" stroke="#000" stroke-width="2.8" stroke-dasharray="11.3 5.65" stroke-dashoffset="6.05"/><rect x="83.4" y="5.5" width="596.4" height="591.1" fill="none" stroke="#111" stroke-width="2.1"/><g stroke="#111" stroke-width="2"><line x1="134.8" y1="596.6" x2="134.8" y2="604.2"/><line x1="246.2" y1="596.6" x2="246.2" y2="604.2"/><line x1="357.6" y1="596.6" x2="357.6" y2="604.2"/><line x1="469.0" y1="596.6" x2="469.0" y2="604.2"/><line x1="580.4" y1="596.6" x2="580.4" y2="604.2"/><line x1="75.8" y1="495.3" x2="83.4" y2="495.3"/><line x1="75.8" y1="391.1" x2="83.4" y2="391.1"/><line x1="75.8" y1="287.0" x2="83.4" y2="287.0"/><line x1="75.8" y1="182.8" x2="83.4" y2="182.8"/><line x1="75.8" y1="78.7" x2="83.4" y2="78.7"/></g><g font-family="Liberation Sans, sans-serif" font-size="32" fill="#111"><text transform="translate(145.7,634.2) scale(1.03,1)" text-anchor="middle">10</text><text transform="translate(257.3,634.2) scale(1.03,1)" text-anchor="middle">5</text><text transform="translate(358.9,634.2) scale(1.03,1)" text-anchor="middle">0</text><text transform="translate(469.8,634.2) scale(1.03,1)" text-anchor="middle">5</text><text transform="translate(580.9,634.2) scale(1.03,1)" text-anchor="middle">10</text><rect x="105.6" y="624.20" width="18.4" height="2.4" fill="#111"/><rect x="227.2" y="624.20" width="18.3" height="2.4" fill="#111"/><text transform="translate(66.8,506.1) scale(1.03,1)" text-anchor="end">0</text><text transform="translate(66.8,401.9) scale(1.03,1)" text-anchor="end">1</text><text transform="translate(66.8,297.8) scale(1.03,1)" text-anchor="end">2</text><text transform="translate(66.8,193.6) scale(1.03,1)" text-anchor="end">3</text><text transform="translate(66.8,89.5) scale(1.03,1)" text-anchor="end">4</text></g><g font-family="Liberation Sans, sans-serif" fill="#111"><text transform="translate(300,674.5) scale(1.07,1)" font-size="31" font-style="italic">ω</text><text transform="translate(326.8,680.3) scale(1.17,1)" font-size="22.5">opt</text><text transform="translate(374,673.5) scale(1.11,1)" font-size="31">(THz)</text></g><g font-family="Liberation Sans, sans-serif" fill="#111" transform="translate(28.5,384) rotate(-90)"><text transform="translate(-1,0) scale(1.13,1)" font-size="33">log</text><text transform="translate(49.5,4.2) scale(1.08,1)" font-size="24">10</text><text transform="translate(83.5,0) scale(1.2,1)" font-size="33">(</text><text transform="translate(95,0) scale(1.32,1)" font-size="33" font-style="italic">ε</text><text transform="translate(114.2,4.2) scale(1.1,1)" font-size="24" font-style="italic">ion</text><text transform="translate(152,0) scale(1.2,1)" font-size="33">)</text></g><rect x="404.6" y="19.1" width="261.4" height="131.3" rx="4" fill="#fff" fill-opacity="0.8" stroke="#d6d6d6" stroke-width="1.5"/><circle cx="442.4" cy="42.2" r="11.9" fill="#ff0000"/><circle cx="442.4" cy="83.5" r="11.9" fill="#0000ff"/><circle cx="442.4" cy="124.8" r="11.9" fill="#008000"/><g font-family="Liberation Sans, sans-serif" fill="#111"><text transform="translate(467.2,51.5) scale(1.04,1)" font-size="25" font-style="italic">ω</text><text transform="translate(487.3,56.5) scale(1.15,1)" font-size="16.5">opt</text><text transform="translate(514.0,42.5) scale(1.0,1)" font-size="16.5">2</text><text transform="translate(532.8,51.5) scale(1.35,1)" font-size="24.5">≤</text><text transform="translate(560.3,51.5) scale(1.0,1)" font-size="25">0</text><text transform="translate(466.3,93.5) scale(1.0,1)" font-size="25">0</text><text transform="translate(480.5,93.5) scale(1.6,1)" font-size="24.5">&lt;</text><text transform="translate(502.6,93.5) scale(1.02,1)" font-size="25" font-style="italic">ω</text><text transform="translate(522.8,98.5) scale(1.15,1)" font-size="16.5">opt</text><text transform="translate(558.6,93.5) scale(1.35,1)" font-size="24.5">≤</text><text transform="translate(586.2,93.5) scale(1.0,1)" font-size="25">2</text><text transform="translate(608.0,93.5) scale(1.05,1)" font-size="25">THz</text><text transform="translate(467.0,133.6) scale(1.04,1)" font-size="25" font-style="italic">ω</text><text transform="translate(487.0,138.6) scale(1.15,1)" font-size="16.5">opt</text><text transform="translate(521.0,133.6) scale(1.45,1)" font-size="24.5">&gt;</text><text transform="translate(550.5,133.6) scale(1.0,1)" font-size="25">2</text><text transform="translate(572.5,133.6) scale(1.05,1)" font-size="25">THz</text></g><text transform="translate(425,546.3) scale(1.08,1)" font-family="Liberation Sans, sans-serif" font-size="33.5" fill="#111">accuracy: 0.885</text></g></svg></body></html>
